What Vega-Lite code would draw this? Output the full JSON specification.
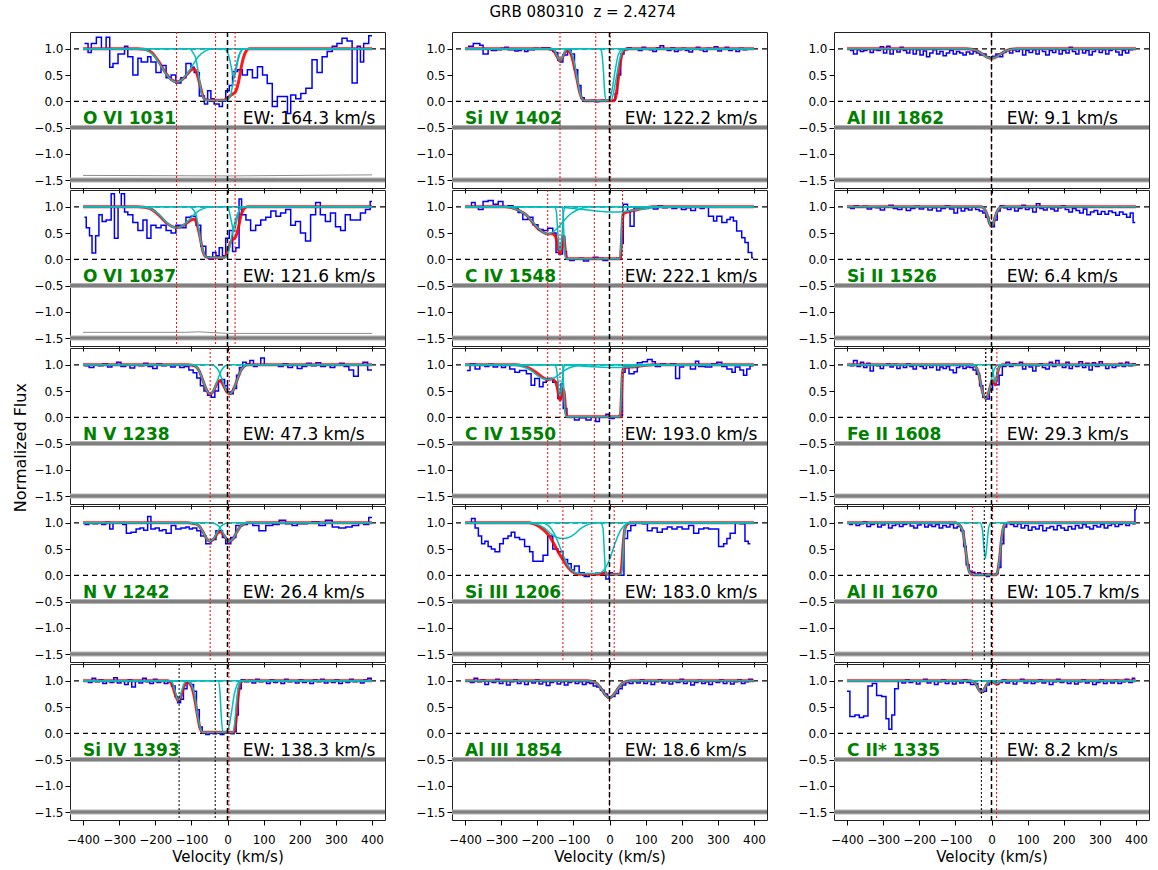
{
"$schema": "https://vega.github.io/schema/vega-lite/v6.json",
"padding": {"left": 13, "top": 4, "right": 5, "bottom": 5},
"title": {"text": "GRB 080310\u00a0 z = 2.4274", "fontSize": 15, "font": "DejaVu Sans", "fontWeight": "normal", "anchor": "middle", "color": "black", "offset": 11},
"config": {
 "font": "DejaVu Sans",
 "view": {"stroke": "#222", "strokeWidth": 1},
 "axis": {"labelFont": "DejaVu Sans", "labelFontSize": 12, "labelColor": "black", "tickColor": "black", "domain": false, "grid": false, "tickSize": 5, "titleFont": "DejaVu Sans", "titleFontWeight": "normal", "titleColor": "black", "titleFontSize": 15, "labelOverlap": false, "labelFlush": false},
 "text": {"font": "DejaVu Sans"}
},
"data": {"name": "d"},
"datasets": {"d": [
{"p":0,"k":"lab","name":"O VI 1031","ew":"EW: 164.3 km/s"},
{"p":1,"k":"lab","name":"Si IV 1402","ew":"EW: 122.2 km/s"},
{"p":2,"k":"lab","name":"Al III 1862","ew":"EW: 9.1 km/s"},
{"p":3,"k":"lab","name":"O VI 1037","ew":"EW: 121.6 km/s"},
{"p":4,"k":"lab","name":"C IV 1548","ew":"EW: 222.1 km/s"},
{"p":5,"k":"lab","name":"Si II 1526","ew":"EW: 6.4 km/s"},
{"p":6,"k":"lab","name":"N V 1238","ew":"EW: 47.3 km/s"},
{"p":7,"k":"lab","name":"C IV 1550","ew":"EW: 193.0 km/s"},
{"p":8,"k":"lab","name":"Fe II 1608","ew":"EW: 29.3 km/s"},
{"p":9,"k":"lab","name":"N V 1242","ew":"EW: 26.4 km/s"},
{"p":10,"k":"lab","name":"Si III 1206","ew":"EW: 183.0 km/s"},
{"p":11,"k":"lab","name":"Al II 1670","ew":"EW: 105.7 km/s"},
{"p":12,"k":"lab","name":"Si IV 1393","ew":"EW: 138.3 km/s"},
{"p":13,"k":"lab","name":"Al III 1854","ew":"EW: 18.6 km/s"},
{"p":14,"k":"lab","name":"C II* 1335","ew":"EW: 8.2 km/s"},

{"p":0,"k":"vl","s":"r","v":-141},{"p":0,"k":"vl","s":"r","v":-33},{"p":0,"k":"vl","s":"r","v":21},
{"p":1,"k":"vl","s":"r","v":-137},{"p":1,"k":"vl","s":"r","v":-38},{"p":1,"k":"vl","s":"r","v":2},
{"p":2,"k":"vl","s":"r","v":0},
{"p":3,"k":"vl","s":"r","v":-141},{"p":3,"k":"vl","s":"r","v":-33},{"p":3,"k":"vl","s":"r","v":21},
{"p":4,"k":"vl","s":"r","v":-171},{"p":4,"k":"vl","s":"r","v":-137},{"p":4,"k":"vl","s":"r","v":-42},{"p":4,"k":"vl","s":"r","v":36},
{"p":5,"k":"vl","s":"r","v":0},
{"p":6,"k":"vl","s":"r","v":-48},{"p":6,"k":"vl","s":"r","v":5},
{"p":7,"k":"vl","s":"r","v":-171},{"p":7,"k":"vl","s":"r","v":-137},{"p":7,"k":"vl","s":"r","v":-42},{"p":7,"k":"vl","s":"r","v":36},
{"p":8,"k":"vl","s":"r","v":-16},{"p":8,"k":"vl","s":"r","v":15},{"p":8,"k":"vl","s":"b","v":-16},
{"p":9,"k":"vl","s":"r","v":-48},{"p":9,"k":"vl","s":"r","v":5},
{"p":10,"k":"vl","s":"r","v":-129},{"p":10,"k":"vl","s":"r","v":-49},{"p":10,"k":"vl","s":"r","v":13},
{"p":11,"k":"vl","s":"r","v":-53},{"p":11,"k":"vl","s":"r","v":3},{"p":11,"k":"vl","s":"b","v":-20},
{"p":12,"k":"vl","s":"b","v":-134},{"p":12,"k":"vl","s":"b","v":-34},{"p":12,"k":"vl","s":"r","v":4},
{"p":13,"k":"vl","s":"r","v":0},
{"p":14,"k":"vl","s":"b","v":-28},{"p":14,"k":"vl","s":"r","v":14},

{"p":0,"k":"e","v":-400,"f":-1.41},{"p":0,"k":"e","v":0,"f":-1.42},{"p":0,"k":"e","v":400,"f":-1.40},
{"p":3,"k":"e","v":-400,"f":-1.39},{"p":3,"k":"e","v":-120,"f":-1.39},{"p":3,"k":"e","v":-80,"f":-1.38},{"p":3,"k":"e","v":0,"f":-1.41},{"p":3,"k":"e","v":400,"f":-1.41},

{"p":0,"k":"s","v":-396,"f":1.1},{"p":0,"k":"s","v":-386,"f":0.93},{"p":0,"k":"s","v":-377,"f":1.1},{"p":0,"k":"s","v":-363,"f":1.22},{"p":0,"k":"s","v":-349,"f":1.0},{"p":0,"k":"s","v":-336,"f":1.22},{"p":0,"k":"s","v":-326,"f":0.65},{"p":0,"k":"s","v":-317,"f":0.72},{"p":0,"k":"s","v":-303,"f":0.9},{"p":0,"k":"s","v":-285,"f":1.05},{"p":0,"k":"s","v":-276,"f":0.85},{"p":0,"k":"s","v":-262,"f":0.5},{"p":0,"k":"s","v":-248,"f":0.82},{"p":0,"k":"s","v":-239,"f":0.75},{"p":0,"k":"s","v":-221,"f":0.85},{"p":0,"k":"s","v":-212,"f":0.75},{"p":0,"k":"s","v":-198,"f":0.55},{"p":0,"k":"s","v":-184,"f":0.68},{"p":0,"k":"s","v":-170,"f":0.45},{"p":0,"k":"s","v":-156,"f":0.5},{"p":0,"k":"s","v":-143,"f":0.35},{"p":0,"k":"s","v":-129,"f":0.45},{"p":0,"k":"s","v":-115,"f":0.72},{"p":0,"k":"s","v":-101,"f":0.65},{"p":0,"k":"s","v":-92,"f":0.55},{"p":0,"k":"s","v":-78,"f":0.1},{"p":0,"k":"s","v":-64,"f":-0.05},{"p":0,"k":"s","v":-55,"f":0.2},{"p":0,"k":"s","v":-46,"f":0.05},{"p":0,"k":"s","v":-37,"f":-0.05},{"p":0,"k":"s","v":-23,"f":-0.1},{"p":0,"k":"s","v":-14,"f":0.0},{"p":0,"k":"s","v":-5,"f":0.2},{"p":0,"k":"s","v":5,"f":0.3},{"p":0,"k":"s","v":14,"f":0.57},{"p":0,"k":"s","v":28,"f":0.6},{"p":0,"k":"s","v":41,"f":0.5},{"p":0,"k":"s","v":55,"f":0.6},{"p":0,"k":"s","v":69,"f":0.45},{"p":0,"k":"s","v":83,"f":0.66},{"p":0,"k":"s","v":97,"f":0.5},{"p":0,"k":"s","v":110,"f":0.34},{"p":0,"k":"s","v":124,"f":-0.1},{"p":0,"k":"s","v":138,"f":0.09},{"p":0,"k":"s","v":152,"f":0.09},{"p":0,"k":"s","v":166,"f":-0.23},{"p":0,"k":"s","v":175,"f":0.12},{"p":0,"k":"s","v":189,"f":0.05},{"p":0,"k":"s","v":203,"f":0.15},{"p":0,"k":"s","v":217,"f":0.25},{"p":0,"k":"s","v":234,"f":0.79},{"p":0,"k":"s","v":248,"f":0.55},{"p":0,"k":"s","v":262,"f":0.85},{"p":0,"k":"s","v":276,"f":0.95},{"p":0,"k":"s","v":290,"f":1.05},{"p":0,"k":"s","v":303,"f":1.1},{"p":0,"k":"s","v":317,"f":1.2},{"p":0,"k":"s","v":331,"f":1.15},{"p":0,"k":"s","v":345,"f":0.35},{"p":0,"k":"s","v":359,"f":1.05},{"p":0,"k":"s","v":368,"f":0.75},{"p":0,"k":"s","v":377,"f":1.1},{"p":0,"k":"s","v":391,"f":1.25},{"p":0,"k":"s","v":400,"f":1.25},

{"p":0,"k":"m","v":-400,"f":1},{"p":0,"k":"m","v":-250,"f":1},{"p":0,"k":"m","v":-230,"f":0.99},{"p":0,"k":"m","v":-210,"f":0.93},{"p":0,"k":"m","v":-190,"f":0.75},{"p":0,"k":"m","v":-170,"f":0.53},{"p":0,"k":"m","v":-155,"f":0.41},{"p":0,"k":"m","v":-141,"f":0.37},{"p":0,"k":"m","v":-126,"f":0.41},{"p":0,"k":"m","v":-111,"f":0.52},{"p":0,"k":"m","v":-100,"f":0.6},{"p":0,"k":"m","v":-93,"f":0.62},{"p":0,"k":"m","v":-86,"f":0.55},{"p":0,"k":"m","v":-80,"f":0.42},{"p":0,"k":"m","v":-74,"f":0.25},{"p":0,"k":"m","v":-68,"f":0.1},{"p":0,"k":"m","v":-60,"f":0.03},{"p":0,"k":"m","v":-40,"f":0.02},{"p":0,"k":"m","v":-10,"f":0.02},{"p":0,"k":"m","v":0,"f":0.06},{"p":0,"k":"m","v":10,"f":0.12},{"p":0,"k":"m","v":22,"f":0.18},{"p":0,"k":"m","v":30,"f":0.35},{"p":0,"k":"m","v":38,"f":0.65},{"p":0,"k":"m","v":45,"f":0.85},{"p":0,"k":"m","v":52,"f":0.96},{"p":0,"k":"m","v":60,"f":1},{"p":0,"k":"m","v":400,"f":1},
{"p":0,"k":"c","c":1,"v":-400,"f":1},{"p":0,"k":"c","c":1,"v":-241,"f":1},{"p":0,"k":"c","c":1,"v":-221,"f":0.96},{"p":0,"k":"c","c":1,"v":-201,"f":0.85},{"p":0,"k":"c","c":1,"v":-186,"f":0.69},{"p":0,"k":"c","c":1,"v":-171,"f":0.53},{"p":0,"k":"c","c":1,"v":-156,"f":0.41},{"p":0,"k":"c","c":1,"v":-141,"f":0.37},{"p":0,"k":"c","c":1,"v":-126,"f":0.41},{"p":0,"k":"c","c":1,"v":-111,"f":0.53},{"p":0,"k":"c","c":1,"v":-96,"f":0.69},{"p":0,"k":"c","c":1,"v":-81,"f":0.85},{"p":0,"k":"c","c":1,"v":-61,"f":0.96},{"p":0,"k":"c","c":1,"v":-41,"f":1},{"p":0,"k":"c","c":1,"v":400,"f":1},
{"p":0,"k":"c","c":2,"v":-400,"f":1},{"p":0,"k":"c","c":2,"v":-105,"f":1},{"p":0,"k":"c","c":2,"v":-95,"f":0.92},{"p":0,"k":"c","c":2,"v":-87,"f":0.8},{"p":0,"k":"c","c":2,"v":-80,"f":0.5},{"p":0,"k":"c","c":2,"v":-73,"f":0.2},{"p":0,"k":"c","c":2,"v":-65,"f":0.05},{"p":0,"k":"c","c":2,"v":-58,"f":0.02},{"p":0,"k":"c","c":2,"v":-10,"f":0.02},{"p":0,"k":"c","c":2,"v":0,"f":0.03},{"p":0,"k":"c","c":2,"v":8,"f":0.1},{"p":0,"k":"c","c":2,"v":15,"f":0.35},{"p":0,"k":"c","c":2,"v":22,"f":0.6},{"p":0,"k":"c","c":2,"v":30,"f":0.85},{"p":0,"k":"c","c":2,"v":38,"f":0.97},{"p":0,"k":"c","c":2,"v":45,"f":1},{"p":0,"k":"c","c":2,"v":400,"f":1},
{"p":0,"k":"c","c":3,"v":-400,"f":1},{"p":0,"k":"c","c":3,"v":-10,"f":1},{"p":0,"k":"c","c":3,"v":0,"f":0.93},{"p":0,"k":"c","c":3,"v":6,"f":0.8},{"p":0,"k":"c","c":3,"v":12,"f":0.6},{"p":0,"k":"c","c":3,"v":18,"f":0.45},{"p":0,"k":"c","c":3,"v":24,"f":0.6},{"p":0,"k":"c","c":3,"v":30,"f":0.8},{"p":0,"k":"c","c":3,"v":36,"f":0.93},{"p":0,"k":"c","c":3,"v":46,"f":1},{"p":0,"k":"c","c":3,"v":400,"f":1},

{"p":1,"k":"s","v":-392,"f":1.05},{"p":1,"k":"s","v":-377,"f":1.1},{"p":1,"k":"s","v":-359,"f":1.07},{"p":1,"k":"s","v":-350,"f":0.9},{"p":1,"k":"s","v":-336,"f":1.0},{"p":1,"k":"s","v":-327,"f":0.97},{"p":1,"k":"s","v":-313,"f":0.98},{"p":1,"k":"s","v":-300,"f":1.01},{"p":1,"k":"s","v":-290,"f":1.03},{"p":1,"k":"s","v":-280,"f":0.98},{"p":1,"k":"s","v":-262,"f":0.96},{"p":1,"k":"s","v":-253,"f":0.97},{"p":1,"k":"s","v":-244,"f":1.0},{"p":1,"k":"s","v":-235,"f":0.95},{"p":1,"k":"s","v":-226,"f":0.98},{"p":1,"k":"s","v":-208,"f":1.01},{"p":1,"k":"s","v":-198,"f":1.0},{"p":1,"k":"s","v":-188,"f":1.02},{"p":1,"k":"s","v":-166,"f":0.98},{"p":1,"k":"s","v":-157,"f":0.95},{"p":1,"k":"s","v":-150,"f":0.93},{"p":1,"k":"s","v":-143,"f":0.78},{"p":1,"k":"s","v":-136,"f":0.75},{"p":1,"k":"s","v":-129,"f":0.88},{"p":1,"k":"s","v":-116,"f":0.98},{"p":1,"k":"s","v":-106,"f":0.9},{"p":1,"k":"s","v":-97,"f":0.6},{"p":1,"k":"s","v":-88,"f":0.3},{"p":1,"k":"s","v":-79,"f":0.07},{"p":1,"k":"s","v":-70,"f":0.01},{"p":1,"k":"s","v":-60,"f":0.0},{"p":1,"k":"s","v":-50,"f":0.02},{"p":1,"k":"s","v":-40,"f":-0.01},{"p":1,"k":"s","v":-30,"f":0.0},{"p":1,"k":"s","v":-20,"f":0.02},{"p":1,"k":"s","v":-10,"f":0.01},{"p":1,"k":"s","v":0,"f":0.0},{"p":1,"k":"s","v":10,"f":0.02},{"p":1,"k":"s","v":16,"f":0.15},{"p":1,"k":"s","v":22,"f":0.5},{"p":1,"k":"s","v":31,"f":0.9},{"p":1,"k":"s","v":40,"f":0.98},{"p":1,"k":"s","v":50,"f":1.02},{"p":1,"k":"s","v":60,"f":0.99},{"p":1,"k":"s","v":70,"f":1.0},{"p":1,"k":"s","v":80,"f":0.97},{"p":1,"k":"s","v":90,"f":1.03},{"p":1,"k":"s","v":100,"f":1.0},{"p":1,"k":"s","v":110,"f":0.98},{"p":1,"k":"s","v":120,"f":0.95},{"p":1,"k":"s","v":130,"f":1.02},{"p":1,"k":"s","v":140,"f":1.06},{"p":1,"k":"s","v":150,"f":1.0},{"p":1,"k":"s","v":160,"f":0.97},{"p":1,"k":"s","v":170,"f":1.02},{"p":1,"k":"s","v":180,"f":0.95},{"p":1,"k":"s","v":190,"f":0.98},{"p":1,"k":"s","v":200,"f":1.01},{"p":1,"k":"s","v":210,"f":0.97},{"p":1,"k":"s","v":220,"f":0.94},{"p":1,"k":"s","v":230,"f":1.0},{"p":1,"k":"s","v":240,"f":1.03},{"p":1,"k":"s","v":250,"f":0.98},{"p":1,"k":"s","v":260,"f":0.95},{"p":1,"k":"s","v":270,"f":1.01},{"p":1,"k":"s","v":280,"f":0.99},{"p":1,"k":"s","v":290,"f":1.04},{"p":1,"k":"s","v":300,"f":0.96},{"p":1,"k":"s","v":310,"f":1.0},{"p":1,"k":"s","v":320,"f":1.03},{"p":1,"k":"s","v":330,"f":0.97},{"p":1,"k":"s","v":340,"f":1.0},{"p":1,"k":"s","v":350,"f":0.95},{"p":1,"k":"s","v":360,"f":1.01},{"p":1,"k":"s","v":370,"f":0.98},{"p":1,"k":"s","v":380,"f":1.0},{"p":1,"k":"s","v":390,"f":0.99},{"p":1,"k":"s","v":400,"f":0.99},
{"p":1,"k":"m","v":-400,"f":1},{"p":1,"k":"m","v":-165,"f":1},{"p":1,"k":"m","v":-155,"f":0.97},{"p":1,"k":"m","v":-145,"f":0.85},{"p":1,"k":"m","v":-137,"f":0.77},{"p":1,"k":"m","v":-129,"f":0.85},{"p":1,"k":"m","v":-120,"f":0.96},{"p":1,"k":"m","v":-112,"f":0.95},{"p":1,"k":"m","v":-105,"f":0.87},{"p":1,"k":"m","v":-98,"f":0.68},{"p":1,"k":"m","v":-90,"f":0.42},{"p":1,"k":"m","v":-82,"f":0.16},{"p":1,"k":"m","v":-75,"f":0.04},{"p":1,"k":"m","v":-68,"f":0.01},{"p":1,"k":"m","v":10,"f":0.01},{"p":1,"k":"m","v":16,"f":0.05},{"p":1,"k":"m","v":22,"f":0.3},{"p":1,"k":"m","v":28,"f":0.65},{"p":1,"k":"m","v":34,"f":0.88},{"p":1,"k":"m","v":40,"f":0.97},{"p":1,"k":"m","v":48,"f":1},{"p":1,"k":"m","v":400,"f":1},
{"p":1,"k":"c","c":1,"v":-400,"f":1},{"p":1,"k":"c","c":1,"v":-162,"f":1},{"p":1,"k":"c","c":1,"v":-152,"f":0.97},{"p":1,"k":"c","c":1,"v":-145,"f":0.86},{"p":1,"k":"c","c":1,"v":-137,"f":0.77},{"p":1,"k":"c","c":1,"v":-129,"f":0.86},{"p":1,"k":"c","c":1,"v":-122,"f":0.97},{"p":1,"k":"c","c":1,"v":-112,"f":1},{"p":1,"k":"c","c":1,"v":400,"f":1},
{"p":1,"k":"c","c":2,"v":-400,"f":1},{"p":1,"k":"c","c":2,"v":-120,"f":1},{"p":1,"k":"c","c":2,"v":-110,"f":0.97},{"p":1,"k":"c","c":2,"v":-102,"f":0.87},{"p":1,"k":"c","c":2,"v":-95,"f":0.65},{"p":1,"k":"c","c":2,"v":-88,"f":0.38},{"p":1,"k":"c","c":2,"v":-80,"f":0.12},{"p":1,"k":"c","c":2,"v":-72,"f":0.02},{"p":1,"k":"c","c":2,"v":-10,"f":0.01},{"p":1,"k":"c","c":2,"v":0,"f":0.04},{"p":1,"k":"c","c":2,"v":8,"f":0.25},{"p":1,"k":"c","c":2,"v":16,"f":0.6},{"p":1,"k":"c","c":2,"v":24,"f":0.88},{"p":1,"k":"c","c":2,"v":32,"f":0.98},{"p":1,"k":"c","c":2,"v":40,"f":1},{"p":1,"k":"c","c":2,"v":400,"f":1},
{"p":1,"k":"c","c":3,"v":-400,"f":1},{"p":1,"k":"c","c":3,"v":-28,"f":1},{"p":1,"k":"c","c":3,"v":-22,"f":0.95},{"p":1,"k":"c","c":3,"v":-17,"f":0.6},{"p":1,"k":"c","c":3,"v":-13,"f":0.15},{"p":1,"k":"c","c":3,"v":-9,"f":0.02},{"p":1,"k":"c","c":3,"v":5,"f":0.02},{"p":1,"k":"c","c":3,"v":12,"f":0.2},{"p":1,"k":"c","c":3,"v":20,"f":0.5},{"p":1,"k":"c","c":3,"v":28,"f":0.8},{"p":1,"k":"c","c":3,"v":36,"f":0.95},{"p":1,"k":"c","c":3,"v":45,"f":1},{"p":1,"k":"c","c":3,"v":400,"f":1},

{"p":2,"k":"s","v":-392,"f":0.97},{"p":2,"k":"s","v":-382,"f":0.9},{"p":2,"k":"s","v":-372,"f":0.98},{"p":2,"k":"s","v":-363,"f":0.95},{"p":2,"k":"s","v":-354,"f":0.97},{"p":2,"k":"s","v":-345,"f":1.0},{"p":2,"k":"s","v":-336,"f":0.93},{"p":2,"k":"s","v":-327,"f":0.98},{"p":2,"k":"s","v":-317,"f":0.97},{"p":2,"k":"s","v":-308,"f":1.04},{"p":2,"k":"s","v":-299,"f":0.92},{"p":2,"k":"s","v":-290,"f":1.05},{"p":2,"k":"s","v":-281,"f":0.9},{"p":2,"k":"s","v":-272,"f":1.0},{"p":2,"k":"s","v":-262,"f":0.94},{"p":2,"k":"s","v":-253,"f":1.03},{"p":2,"k":"s","v":-244,"f":0.97},{"p":2,"k":"s","v":-235,"f":0.92},{"p":2,"k":"s","v":-226,"f":1.0},{"p":2,"k":"s","v":-217,"f":0.9},{"p":2,"k":"s","v":-208,"f":0.98},{"p":2,"k":"s","v":-198,"f":0.88},{"p":2,"k":"s","v":-189,"f":0.96},{"p":2,"k":"s","v":-180,"f":0.85},{"p":2,"k":"s","v":-171,"f":0.92},{"p":2,"k":"s","v":-162,"f":0.98},{"p":2,"k":"s","v":-152,"f":0.9},{"p":2,"k":"s","v":-143,"f":0.95},{"p":2,"k":"s","v":-134,"f":0.87},{"p":2,"k":"s","v":-125,"f":0.92},{"p":2,"k":"s","v":-116,"f":0.97},{"p":2,"k":"s","v":-106,"f":0.9},{"p":2,"k":"s","v":-97,"f":0.95},{"p":2,"k":"s","v":-88,"f":0.92},{"p":2,"k":"s","v":-79,"f":0.88},{"p":2,"k":"s","v":-70,"f":0.94},{"p":2,"k":"s","v":-60,"f":0.9},{"p":2,"k":"s","v":-51,"f":0.95},{"p":2,"k":"s","v":-42,"f":0.92},{"p":2,"k":"s","v":-33,"f":0.88},{"p":2,"k":"s","v":-24,"f":0.9},{"p":2,"k":"s","v":-15,"f":0.85},{"p":2,"k":"s","v":-6,"f":0.82},{"p":2,"k":"s","v":3,"f":0.86},{"p":2,"k":"s","v":12,"f":0.9},{"p":2,"k":"s","v":22,"f":0.85},{"p":2,"k":"s","v":31,"f":0.93},{"p":2,"k":"s","v":40,"f":0.97},{"p":2,"k":"s","v":50,"f":0.92},{"p":2,"k":"s","v":59,"f":0.98},{"p":2,"k":"s","v":68,"f":0.95},{"p":2,"k":"s","v":77,"f":1.0},{"p":2,"k":"s","v":86,"f":0.88},{"p":2,"k":"s","v":95,"f":0.97},{"p":2,"k":"s","v":104,"f":0.93},{"p":2,"k":"s","v":114,"f":0.98},{"p":2,"k":"s","v":123,"f":0.9},{"p":2,"k":"s","v":132,"f":1.0},{"p":2,"k":"s","v":141,"f":0.95},{"p":2,"k":"s","v":150,"f":0.88},{"p":2,"k":"s","v":160,"f":0.97},{"p":2,"k":"s","v":169,"f":0.93},{"p":2,"k":"s","v":178,"f":0.99},{"p":2,"k":"s","v":187,"f":0.9},{"p":2,"k":"s","v":196,"f":0.97},{"p":2,"k":"s","v":206,"f":0.92},{"p":2,"k":"s","v":215,"f":1.03},{"p":2,"k":"s","v":224,"f":0.95},{"p":2,"k":"s","v":233,"f":0.9},{"p":2,"k":"s","v":242,"f":1.0},{"p":2,"k":"s","v":252,"f":0.92},{"p":2,"k":"s","v":261,"f":0.97},{"p":2,"k":"s","v":270,"f":0.88},{"p":2,"k":"s","v":279,"f":0.95},{"p":2,"k":"s","v":288,"f":1.0},{"p":2,"k":"s","v":298,"f":0.93},{"p":2,"k":"s","v":307,"f":0.98},{"p":2,"k":"s","v":316,"f":0.9},{"p":2,"k":"s","v":325,"f":0.97},{"p":2,"k":"s","v":334,"f":1.0},{"p":2,"k":"s","v":344,"f":0.94},{"p":2,"k":"s","v":353,"f":0.88},{"p":2,"k":"s","v":362,"f":0.97},{"p":2,"k":"s","v":371,"f":0.92},{"p":2,"k":"s","v":380,"f":0.98},{"p":2,"k":"s","v":390,"f":1.0},{"p":2,"k":"s","v":400,"f":1.0},
{"p":2,"k":"m","v":-400,"f":1},{"p":2,"k":"m","v":-70,"f":1},{"p":2,"k":"m","v":-55,"f":0.99},{"p":2,"k":"m","v":-40,"f":0.96},{"p":2,"k":"m","v":-25,"f":0.9},{"p":2,"k":"m","v":-12,"f":0.84},{"p":2,"k":"m","v":0,"f":0.82},{"p":2,"k":"m","v":12,"f":0.84},{"p":2,"k":"m","v":25,"f":0.9},{"p":2,"k":"m","v":40,"f":0.96},{"p":2,"k":"m","v":55,"f":0.99},{"p":2,"k":"m","v":70,"f":1},{"p":2,"k":"m","v":400,"f":1},
{"p":2,"k":"c","c":1,"v":-400,"f":1},{"p":2,"k":"c","c":1,"v":-70,"f":1},{"p":2,"k":"c","c":1,"v":-55,"f":0.99},{"p":2,"k":"c","c":1,"v":-40,"f":0.96},{"p":2,"k":"c","c":1,"v":-25,"f":0.9},{"p":2,"k":"c","c":1,"v":-12,"f":0.84},{"p":2,"k":"c","c":1,"v":0,"f":0.82},{"p":2,"k":"c","c":1,"v":12,"f":0.84},{"p":2,"k":"c","c":1,"v":25,"f":0.9},{"p":2,"k":"c","c":1,"v":40,"f":0.96},{"p":2,"k":"c","c":1,"v":55,"f":0.99},{"p":2,"k":"c","c":1,"v":70,"f":1},{"p":2,"k":"c","c":1,"v":400,"f":1},

{"p":3,"k":"s","v":-396,"f":0.8},{"p":3,"k":"s","v":-391,"f":0.6},{"p":3,"k":"s","v":-382,"f":0.45},{"p":3,"k":"s","v":-375,"f":0.12},{"p":3,"k":"s","v":-365,"f":0.45},{"p":3,"k":"s","v":-356,"f":0.85},{"p":3,"k":"s","v":-347,"f":0.72},{"p":3,"k":"s","v":-336,"f":0.75},{"p":3,"k":"s","v":-322,"f":1.25},{"p":3,"k":"s","v":-313,"f":0.4},{"p":3,"k":"s","v":-303,"f":1.0},{"p":3,"k":"s","v":-294,"f":1.25},{"p":3,"k":"s","v":-285,"f":0.9},{"p":3,"k":"s","v":-276,"f":0.85},{"p":3,"k":"s","v":-262,"f":0.7},{"p":3,"k":"s","v":-248,"f":0.55},{"p":3,"k":"s","v":-234,"f":0.75},{"p":3,"k":"s","v":-223,"f":0.4},{"p":3,"k":"s","v":-212,"f":0.65},{"p":3,"k":"s","v":-198,"f":0.6},{"p":3,"k":"s","v":-184,"f":0.65},{"p":3,"k":"s","v":-170,"f":0.55},{"p":3,"k":"s","v":-156,"f":0.5},{"p":3,"k":"s","v":-143,"f":0.65},{"p":3,"k":"s","v":-129,"f":0.6},{"p":3,"k":"s","v":-115,"f":0.8},{"p":3,"k":"s","v":-101,"f":0.82},{"p":3,"k":"s","v":-87,"f":0.65},{"p":3,"k":"s","v":-74,"f":0.25},{"p":3,"k":"s","v":-60,"f":0.05},{"p":3,"k":"s","v":-51,"f":0.0},{"p":3,"k":"s","v":-41,"f":0.13},{"p":3,"k":"s","v":-32,"f":0.07},{"p":3,"k":"s","v":-23,"f":0.22},{"p":3,"k":"s","v":-14,"f":0.07},{"p":3,"k":"s","v":-5,"f":0.4},{"p":3,"k":"s","v":5,"f":0.55},{"p":3,"k":"s","v":14,"f":0.15},{"p":3,"k":"s","v":23,"f":0.22},{"p":3,"k":"s","v":32,"f":1.15},{"p":3,"k":"s","v":39,"f":0.85},{"p":3,"k":"s","v":51,"f":0.75},{"p":3,"k":"s","v":64,"f":0.55},{"p":3,"k":"s","v":78,"f":0.65},{"p":3,"k":"s","v":92,"f":0.75},{"p":3,"k":"s","v":106,"f":0.8},{"p":3,"k":"s","v":120,"f":0.92},{"p":3,"k":"s","v":134,"f":0.82},{"p":3,"k":"s","v":147,"f":0.88},{"p":3,"k":"s","v":161,"f":0.95},{"p":3,"k":"s","v":175,"f":0.65},{"p":3,"k":"s","v":188,"f":0.72},{"p":3,"k":"s","v":202,"f":0.5},{"p":3,"k":"s","v":216,"f":0.35},{"p":3,"k":"s","v":230,"f":0.85},{"p":3,"k":"s","v":244,"f":1.08},{"p":3,"k":"s","v":257,"f":0.85},{"p":3,"k":"s","v":271,"f":0.72},{"p":3,"k":"s","v":285,"f":0.88},{"p":3,"k":"s","v":299,"f":0.62},{"p":3,"k":"s","v":313,"f":0.55},{"p":3,"k":"s","v":326,"f":0.85},{"p":3,"k":"s","v":340,"f":0.75},{"p":3,"k":"s","v":354,"f":0.75},{"p":3,"k":"s","v":368,"f":0.88},{"p":3,"k":"s","v":382,"f":0.95},{"p":3,"k":"s","v":395,"f":1.1},{"p":3,"k":"s","v":400,"f":1.1},
{"p":3,"k":"m","v":-400,"f":1},{"p":3,"k":"m","v":-250,"f":1},{"p":3,"k":"m","v":-230,"f":0.99},{"p":3,"k":"m","v":-210,"f":0.95},{"p":3,"k":"m","v":-190,"f":0.84},{"p":3,"k":"m","v":-170,"f":0.7},{"p":3,"k":"m","v":-155,"f":0.63},{"p":3,"k":"m","v":-141,"f":0.6},{"p":3,"k":"m","v":-126,"f":0.63},{"p":3,"k":"m","v":-111,"f":0.7},{"p":3,"k":"m","v":-100,"f":0.75},{"p":3,"k":"m","v":-93,"f":0.77},{"p":3,"k":"m","v":-86,"f":0.7},{"p":3,"k":"m","v":-80,"f":0.55},{"p":3,"k":"m","v":-74,"f":0.35},{"p":3,"k":"m","v":-68,"f":0.15},{"p":3,"k":"m","v":-60,"f":0.05},{"p":3,"k":"m","v":-50,"f":0.03},{"p":3,"k":"m","v":-10,"f":0.03},{"p":3,"k":"m","v":0,"f":0.15},{"p":3,"k":"m","v":8,"f":0.32},{"p":3,"k":"m","v":15,"f":0.38},{"p":3,"k":"m","v":22,"f":0.42},{"p":3,"k":"m","v":30,"f":0.6},{"p":3,"k":"m","v":38,"f":0.85},{"p":3,"k":"m","v":45,"f":0.96},{"p":3,"k":"m","v":55,"f":1},{"p":3,"k":"m","v":400,"f":1},
{"p":3,"k":"c","c":1,"v":-400,"f":1},{"p":3,"k":"c","c":1,"v":-241,"f":1},{"p":3,"k":"c","c":1,"v":-221,"f":0.98},{"p":3,"k":"c","c":1,"v":-201,"f":0.92},{"p":3,"k":"c","c":1,"v":-186,"f":0.83},{"p":3,"k":"c","c":1,"v":-171,"f":0.72},{"p":3,"k":"c","c":1,"v":-156,"f":0.63},{"p":3,"k":"c","c":1,"v":-141,"f":0.6},{"p":3,"k":"c","c":1,"v":-126,"f":0.63},{"p":3,"k":"c","c":1,"v":-111,"f":0.72},{"p":3,"k":"c","c":1,"v":-96,"f":0.83},{"p":3,"k":"c","c":1,"v":-81,"f":0.92},{"p":3,"k":"c","c":1,"v":-61,"f":0.98},{"p":3,"k":"c","c":1,"v":-41,"f":1},{"p":3,"k":"c","c":1,"v":400,"f":1},
{"p":3,"k":"c","c":2,"v":-400,"f":1},{"p":3,"k":"c","c":2,"v":-105,"f":1},{"p":3,"k":"c","c":2,"v":-95,"f":0.95},{"p":3,"k":"c","c":2,"v":-87,"f":0.85},{"p":3,"k":"c","c":2,"v":-80,"f":0.6},{"p":3,"k":"c","c":2,"v":-73,"f":0.3},{"p":3,"k":"c","c":2,"v":-65,"f":0.1},{"p":3,"k":"c","c":2,"v":-58,"f":0.04},{"p":3,"k":"c","c":2,"v":-10,"f":0.03},{"p":3,"k":"c","c":2,"v":0,"f":0.08},{"p":3,"k":"c","c":2,"v":8,"f":0.3},{"p":3,"k":"c","c":2,"v":15,"f":0.55},{"p":3,"k":"c","c":2,"v":22,"f":0.75},{"p":3,"k":"c","c":2,"v":30,"f":0.9},{"p":3,"k":"c","c":2,"v":38,"f":0.98},{"p":3,"k":"c","c":2,"v":45,"f":1},{"p":3,"k":"c","c":2,"v":400,"f":1},
{"p":3,"k":"c","c":3,"v":-400,"f":1},{"p":3,"k":"c","c":3,"v":0,"f":1},{"p":3,"k":"c","c":3,"v":6,"f":0.88},{"p":3,"k":"c","c":3,"v":12,"f":0.68},{"p":3,"k":"c","c":3,"v":18,"f":0.52},{"p":3,"k":"c","c":3,"v":24,"f":0.68},{"p":3,"k":"c","c":3,"v":30,"f":0.88},{"p":3,"k":"c","c":3,"v":36,"f":0.97},{"p":3,"k":"c","c":3,"v":46,"f":1},{"p":3,"k":"c","c":3,"v":400,"f":1},

{"p":4,"k":"s","v":-392,"f":1.0},{"p":4,"k":"s","v":-382,"f":1.08},{"p":4,"k":"s","v":-372,"f":1.0},{"p":4,"k":"s","v":-363,"f":0.95},{"p":4,"k":"s","v":-350,"f":1.1},{"p":4,"k":"s","v":-336,"f":1.12},{"p":4,"k":"s","v":-322,"f":1.05},{"p":4,"k":"s","v":-308,"f":1.1},{"p":4,"k":"s","v":-295,"f":1.0},{"p":4,"k":"s","v":-281,"f":1.02},{"p":4,"k":"s","v":-267,"f":0.98},{"p":4,"k":"s","v":-253,"f":0.89},{"p":4,"k":"s","v":-240,"f":0.76},{"p":4,"k":"s","v":-226,"f":0.8},{"p":4,"k":"s","v":-212,"f":0.66},{"p":4,"k":"s","v":-198,"f":0.57},{"p":4,"k":"s","v":-184,"f":0.55},{"p":4,"k":"s","v":-171,"f":0.59},{"p":4,"k":"s","v":-157,"f":0.5},{"p":4,"k":"s","v":-148,"f":0.13},{"p":4,"k":"s","v":-140,"f":0.1},{"p":4,"k":"s","v":-130,"f":0.44},{"p":4,"k":"s","v":-124,"f":0.15},{"p":4,"k":"s","v":-119,"f":0.01},{"p":4,"k":"s","v":-110,"f":-0.02},{"p":4,"k":"s","v":-98,"f":0.0},{"p":4,"k":"s","v":-85,"f":0.02},{"p":4,"k":"s","v":-72,"f":-0.03},{"p":4,"k":"s","v":-58,"f":0.01},{"p":4,"k":"s","v":-45,"f":0.04},{"p":4,"k":"s","v":-32,"f":0.02},{"p":4,"k":"s","v":-18,"f":-0.02},{"p":4,"k":"s","v":-5,"f":0.01},{"p":4,"k":"s","v":8,"f":0.0},{"p":4,"k":"s","v":20,"f":0.02},{"p":4,"k":"s","v":31,"f":0.3},{"p":4,"k":"s","v":38,"f":1.05},{"p":4,"k":"s","v":50,"f":0.92},{"p":4,"k":"s","v":57,"f":0.63},{"p":4,"k":"s","v":68,"f":0.98},{"p":4,"k":"s","v":80,"f":1.0},{"p":4,"k":"s","v":95,"f":0.97},{"p":4,"k":"s","v":108,"f":1.0},{"p":4,"k":"s","v":121,"f":0.96},{"p":4,"k":"s","v":134,"f":1.02},{"p":4,"k":"s","v":147,"f":0.98},{"p":4,"k":"s","v":160,"f":1.0},{"p":4,"k":"s","v":173,"f":0.97},{"p":4,"k":"s","v":186,"f":1.0},{"p":4,"k":"s","v":199,"f":0.95},{"p":4,"k":"s","v":212,"f":0.98},{"p":4,"k":"s","v":225,"f":0.93},{"p":4,"k":"s","v":238,"f":1.0},{"p":4,"k":"s","v":251,"f":0.97},{"p":4,"k":"s","v":262,"f":1.0},{"p":4,"k":"s","v":274,"f":0.82},{"p":4,"k":"s","v":288,"f":0.73},{"p":4,"k":"s","v":297,"f":0.82},{"p":4,"k":"s","v":311,"f":0.7},{"p":4,"k":"s","v":325,"f":0.76},{"p":4,"k":"s","v":334,"f":0.8},{"p":4,"k":"s","v":343,"f":0.73},{"p":4,"k":"s","v":352,"f":0.54},{"p":4,"k":"s","v":366,"f":0.41},{"p":4,"k":"s","v":375,"f":0.32},{"p":4,"k":"s","v":384,"f":0.13},{"p":4,"k":"s","v":394,"f":0.03},{"p":4,"k":"s","v":398,"f":0.03},
{"p":4,"k":"m","v":-400,"f":1},{"p":4,"k":"m","v":-290,"f":1},{"p":4,"k":"m","v":-270,"f":0.98},{"p":4,"k":"m","v":-250,"f":0.93},{"p":4,"k":"m","v":-230,"f":0.84},{"p":4,"k":"m","v":-215,"f":0.72},{"p":4,"k":"m","v":-200,"f":0.6},{"p":4,"k":"m","v":-185,"f":0.52},{"p":4,"k":"m","v":-171,"f":0.48},{"p":4,"k":"m","v":-160,"f":0.49},{"p":4,"k":"m","v":-150,"f":0.44},{"p":4,"k":"m","v":-144,"f":0.3},{"p":4,"k":"m","v":-139,"f":0.13},{"p":4,"k":"m","v":-135,"f":0.12},{"p":4,"k":"m","v":-131,"f":0.3},{"p":4,"k":"m","v":-128,"f":0.45},{"p":4,"k":"m","v":-125,"f":0.35},{"p":4,"k":"m","v":-121,"f":0.08},{"p":4,"k":"m","v":-117,"f":0.01},{"p":4,"k":"m","v":30,"f":0.01},{"p":4,"k":"m","v":33,"f":0.3},{"p":4,"k":"m","v":36,"f":0.75},{"p":4,"k":"m","v":40,"f":0.88},{"p":4,"k":"m","v":60,"f":0.92},{"p":4,"k":"m","v":80,"f":0.95},{"p":4,"k":"m","v":100,"f":0.98},{"p":4,"k":"m","v":120,"f":1},{"p":4,"k":"m","v":400,"f":1},
{"p":4,"k":"c","c":1,"v":-400,"f":1},{"p":4,"k":"c","c":1,"v":-290,"f":1},{"p":4,"k":"c","c":1,"v":-270,"f":0.98},{"p":4,"k":"c","c":1,"v":-250,"f":0.93},{"p":4,"k":"c","c":1,"v":-230,"f":0.84},{"p":4,"k":"c","c":1,"v":-215,"f":0.73},{"p":4,"k":"c","c":1,"v":-200,"f":0.61},{"p":4,"k":"c","c":1,"v":-185,"f":0.52},{"p":4,"k":"c","c":1,"v":-171,"f":0.48},{"p":4,"k":"c","c":1,"v":-157,"f":0.52},{"p":4,"k":"c","c":1,"v":-142,"f":0.61},{"p":4,"k":"c","c":1,"v":-127,"f":0.73},{"p":4,"k":"c","c":1,"v":-112,"f":0.84},{"p":4,"k":"c","c":1,"v":-92,"f":0.93},{"p":4,"k":"c","c":1,"v":-72,"f":0.98},{"p":4,"k":"c","c":1,"v":-52,"f":1},{"p":4,"k":"c","c":1,"v":400,"f":1},
{"p":4,"k":"c","c":2,"v":-400,"f":1},{"p":4,"k":"c","c":2,"v":-152,"f":1},{"p":4,"k":"c","c":2,"v":-147,"f":0.9},{"p":4,"k":"c","c":2,"v":-143,"f":0.5},{"p":4,"k":"c","c":2,"v":-139,"f":0.2},{"p":4,"k":"c","c":2,"v":-137,"f":0.15},{"p":4,"k":"c","c":2,"v":-135,"f":0.2},{"p":4,"k":"c","c":2,"v":-131,"f":0.5},{"p":4,"k":"c","c":2,"v":-127,"f":0.9},{"p":4,"k":"c","c":2,"v":-122,"f":1},{"p":4,"k":"c","c":2,"v":400,"f":1},
{"p":4,"k":"c","c":3,"v":-400,"f":1},{"p":4,"k":"c","c":3,"v":-130,"f":1},{"p":4,"k":"c","c":3,"v":-127,"f":0.6},{"p":4,"k":"c","c":3,"v":-123,"f":0.1},{"p":4,"k":"c","c":3,"v":-119,"f":0.01},{"p":4,"k":"c","c":3,"v":28,"f":0.01},{"p":4,"k":"c","c":3,"v":32,"f":0.3},{"p":4,"k":"c","c":3,"v":35,"f":0.8},{"p":4,"k":"c","c":3,"v":38,"f":0.97},{"p":4,"k":"c","c":3,"v":42,"f":1},{"p":4,"k":"c","c":3,"v":400,"f":1},
{"p":4,"k":"c","c":4,"v":-400,"f":1},{"p":4,"k":"c","c":4,"v":-180,"f":1},{"p":4,"k":"c","c":4,"v":-140,"f":0.99},{"p":4,"k":"c","c":4,"v":-100,"f":0.97},{"p":4,"k":"c","c":4,"v":-60,"f":0.94},{"p":4,"k":"c","c":4,"v":-20,"f":0.91},{"p":4,"k":"c","c":4,"v":10,"f":0.9},{"p":4,"k":"c","c":4,"v":40,"f":0.91},{"p":4,"k":"c","c":4,"v":70,"f":0.94},{"p":4,"k":"c","c":4,"v":100,"f":0.97},{"p":4,"k":"c","c":4,"v":130,"f":0.99},{"p":4,"k":"c","c":4,"v":160,"f":1},{"p":4,"k":"c","c":4,"v":400,"f":1},

{"p":5,"k":"s","v":-392,"f":0.97},{"p":5,"k":"s","v":-380,"f":1.02},{"p":5,"k":"s","v":-368,"f":0.99},{"p":5,"k":"s","v":-356,"f":1.01},{"p":5,"k":"s","v":-344,"f":0.96},{"p":5,"k":"s","v":-332,"f":1.0},{"p":5,"k":"s","v":-320,"f":0.98},{"p":5,"k":"s","v":-308,"f":0.94},{"p":5,"k":"s","v":-296,"f":0.99},{"p":5,"k":"s","v":-284,"f":1.03},{"p":5,"k":"s","v":-272,"f":0.97},{"p":5,"k":"s","v":-260,"f":0.95},{"p":5,"k":"s","v":-248,"f":1.0},{"p":5,"k":"s","v":-236,"f":0.93},{"p":5,"k":"s","v":-224,"f":0.97},{"p":5,"k":"s","v":-212,"f":1.01},{"p":5,"k":"s","v":-200,"f":0.96},{"p":5,"k":"s","v":-188,"f":0.99},{"p":5,"k":"s","v":-176,"f":0.94},{"p":5,"k":"s","v":-164,"f":0.98},{"p":5,"k":"s","v":-152,"f":0.92},{"p":5,"k":"s","v":-140,"f":0.97},{"p":5,"k":"s","v":-128,"f":1.02},{"p":5,"k":"s","v":-116,"f":0.96},{"p":5,"k":"s","v":-104,"f":0.88},{"p":5,"k":"s","v":-94,"f":0.98},{"p":5,"k":"s","v":-84,"f":0.92},{"p":5,"k":"s","v":-74,"f":0.97},{"p":5,"k":"s","v":-64,"f":0.94},{"p":5,"k":"s","v":-54,"f":0.99},{"p":5,"k":"s","v":-44,"f":0.95},{"p":5,"k":"s","v":-34,"f":0.92},{"p":5,"k":"s","v":-24,"f":0.88},{"p":5,"k":"s","v":-16,"f":0.8},{"p":5,"k":"s","v":-8,"f":0.7},{"p":5,"k":"s","v":0,"f":0.62},{"p":5,"k":"s","v":8,"f":0.75},{"p":5,"k":"s","v":16,"f":0.92},{"p":5,"k":"s","v":24,"f":1.02},{"p":5,"k":"s","v":34,"f":0.98},{"p":5,"k":"s","v":44,"f":0.95},{"p":5,"k":"s","v":54,"f":1.0},{"p":5,"k":"s","v":64,"f":0.92},{"p":5,"k":"s","v":74,"f":0.97},{"p":5,"k":"s","v":84,"f":1.03},{"p":5,"k":"s","v":94,"f":0.95},{"p":5,"k":"s","v":104,"f":0.98},{"p":5,"k":"s","v":114,"f":0.9},{"p":5,"k":"s","v":124,"f":1.06},{"p":5,"k":"s","v":134,"f":0.97},{"p":5,"k":"s","v":144,"f":0.94},{"p":5,"k":"s","v":154,"f":1.0},{"p":5,"k":"s","v":164,"f":0.96},{"p":5,"k":"s","v":174,"f":0.92},{"p":5,"k":"s","v":184,"f":0.98},{"p":5,"k":"s","v":194,"f":1.02},{"p":5,"k":"s","v":204,"f":0.95},{"p":5,"k":"s","v":214,"f":0.9},{"p":5,"k":"s","v":224,"f":0.97},{"p":5,"k":"s","v":234,"f":0.93},{"p":5,"k":"s","v":244,"f":0.88},{"p":5,"k":"s","v":254,"f":0.96},{"p":5,"k":"s","v":264,"f":0.85},{"p":5,"k":"s","v":274,"f":0.9},{"p":5,"k":"s","v":284,"f":0.93},{"p":5,"k":"s","v":294,"f":0.86},{"p":5,"k":"s","v":304,"f":0.91},{"p":5,"k":"s","v":314,"f":0.86},{"p":5,"k":"s","v":324,"f":0.92},{"p":5,"k":"s","v":334,"f":0.89},{"p":5,"k":"s","v":344,"f":0.84},{"p":5,"k":"s","v":354,"f":0.9},{"p":5,"k":"s","v":364,"f":0.86},{"p":5,"k":"s","v":374,"f":0.8},{"p":5,"k":"s","v":384,"f":0.88},{"p":5,"k":"s","v":392,"f":0.7},{"p":5,"k":"s","v":398,"f":0.7},
{"p":5,"k":"m","v":-400,"f":1},{"p":5,"k":"m","v":-30,"f":1},{"p":5,"k":"m","v":-22,"f":0.98},{"p":5,"k":"m","v":-15,"f":0.9},{"p":5,"k":"m","v":-10,"f":0.8},{"p":5,"k":"m","v":-5,"f":0.68},{"p":5,"k":"m","v":0,"f":0.63},{"p":5,"k":"m","v":5,"f":0.68},{"p":5,"k":"m","v":10,"f":0.8},{"p":5,"k":"m","v":15,"f":0.9},{"p":5,"k":"m","v":22,"f":0.98},{"p":5,"k":"m","v":30,"f":1},{"p":5,"k":"m","v":400,"f":1},
{"p":5,"k":"c","c":1,"v":-400,"f":1},{"p":5,"k":"c","c":1,"v":-30,"f":1},{"p":5,"k":"c","c":1,"v":-22,"f":0.98},{"p":5,"k":"c","c":1,"v":-15,"f":0.9},{"p":5,"k":"c","c":1,"v":-10,"f":0.8},{"p":5,"k":"c","c":1,"v":-5,"f":0.68},{"p":5,"k":"c","c":1,"v":0,"f":0.63},{"p":5,"k":"c","c":1,"v":5,"f":0.68},{"p":5,"k":"c","c":1,"v":10,"f":0.8},{"p":5,"k":"c","c":1,"v":15,"f":0.9},{"p":5,"k":"c","c":1,"v":22,"f":0.98},{"p":5,"k":"c","c":1,"v":30,"f":1},{"p":5,"k":"c","c":1,"v":400,"f":1},

{"p":6,"k":"s","v":-396,"f":0.98},{"p":6,"k":"s","v":-383,"f":0.95},{"p":6,"k":"s","v":-370,"f":1.0},{"p":6,"k":"s","v":-357,"f":0.98},{"p":6,"k":"s","v":-345,"f":1.02},{"p":6,"k":"s","v":-332,"f":0.96},{"p":6,"k":"s","v":-320,"f":1.0},{"p":6,"k":"s","v":-307,"f":1.05},{"p":6,"k":"s","v":-295,"f":0.97},{"p":6,"k":"s","v":-282,"f":1.0},{"p":6,"k":"s","v":-270,"f":0.94},{"p":6,"k":"s","v":-257,"f":1.0},{"p":6,"k":"s","v":-245,"f":0.98},{"p":6,"k":"s","v":-232,"f":1.03},{"p":6,"k":"s","v":-220,"f":0.97},{"p":6,"k":"s","v":-207,"f":0.93},{"p":6,"k":"s","v":-195,"f":1.02},{"p":6,"k":"s","v":-182,"f":0.98},{"p":6,"k":"s","v":-170,"f":1.0},{"p":6,"k":"s","v":-157,"f":0.96},{"p":6,"k":"s","v":-145,"f":0.99},{"p":6,"k":"s","v":-132,"f":0.95},{"p":6,"k":"s","v":-120,"f":0.97},{"p":6,"k":"s","v":-107,"f":0.9},{"p":6,"k":"s","v":-95,"f":0.85},{"p":6,"k":"s","v":-85,"f":0.75},{"p":6,"k":"s","v":-75,"f":0.6},{"p":6,"k":"s","v":-65,"f":0.5},{"p":6,"k":"s","v":-55,"f":0.42},{"p":6,"k":"s","v":-45,"f":0.38},{"p":6,"k":"s","v":-35,"f":0.5},{"p":6,"k":"s","v":-25,"f":0.68},{"p":6,"k":"s","v":-17,"f":0.72},{"p":6,"k":"s","v":-8,"f":0.6},{"p":6,"k":"s","v":0,"f":0.48},{"p":6,"k":"s","v":8,"f":0.45},{"p":6,"k":"s","v":16,"f":0.55},{"p":6,"k":"s","v":25,"f":0.8},{"p":6,"k":"s","v":33,"f":0.95},{"p":6,"k":"s","v":42,"f":1.05},{"p":6,"k":"s","v":52,"f":1.02},{"p":6,"k":"s","v":62,"f":1.08},{"p":6,"k":"s","v":72,"f":0.97},{"p":6,"k":"s","v":82,"f":1.0},{"p":6,"k":"s","v":92,"f":1.13},{"p":6,"k":"s","v":102,"f":1.0},{"p":6,"k":"s","v":115,"f":1.0},{"p":6,"k":"s","v":128,"f":0.99},{"p":6,"k":"s","v":141,"f":0.97},{"p":6,"k":"s","v":154,"f":1.02},{"p":6,"k":"s","v":167,"f":0.95},{"p":6,"k":"s","v":180,"f":1.0},{"p":6,"k":"s","v":193,"f":0.93},{"p":6,"k":"s","v":206,"f":0.97},{"p":6,"k":"s","v":219,"f":1.03},{"p":6,"k":"s","v":232,"f":0.98},{"p":6,"k":"s","v":245,"f":1.04},{"p":6,"k":"s","v":258,"f":0.97},{"p":6,"k":"s","v":271,"f":1.0},{"p":6,"k":"s","v":284,"f":0.95},{"p":6,"k":"s","v":297,"f":0.99},{"p":6,"k":"s","v":310,"f":1.03},{"p":6,"k":"s","v":323,"f":0.97},{"p":6,"k":"s","v":336,"f":0.9},{"p":6,"k":"s","v":349,"f":0.78},{"p":6,"k":"s","v":362,"f":1.0},{"p":6,"k":"s","v":375,"f":1.05},{"p":6,"k":"s","v":388,"f":0.9},{"p":6,"k":"s","v":400,"f":0.9},
{"p":6,"k":"m","v":-400,"f":1},{"p":6,"k":"m","v":-110,"f":1},{"p":6,"k":"m","v":-98,"f":0.99},{"p":6,"k":"m","v":-88,"f":0.97},{"p":6,"k":"m","v":-78,"f":0.88},{"p":6,"k":"m","v":-68,"f":0.7},{"p":6,"k":"m","v":-58,"f":0.52},{"p":6,"k":"m","v":-48,"f":0.44},{"p":6,"k":"m","v":-38,"f":0.51},{"p":6,"k":"m","v":-28,"f":0.66},{"p":6,"k":"m","v":-20,"f":0.7},{"p":6,"k":"m","v":-12,"f":0.62},{"p":6,"k":"m","v":-4,"f":0.51},{"p":6,"k":"m","v":6,"f":0.45},{"p":6,"k":"m","v":16,"f":0.52},{"p":6,"k":"m","v":26,"f":0.7},{"p":6,"k":"m","v":36,"f":0.88},{"p":6,"k":"m","v":46,"f":0.97},{"p":6,"k":"m","v":56,"f":1},{"p":6,"k":"m","v":400,"f":1},
{"p":6,"k":"c","c":1,"v":-400,"f":1},{"p":6,"k":"c","c":1,"v":-98,"f":1},{"p":6,"k":"c","c":1,"v":-88,"f":0.97},{"p":6,"k":"c","c":1,"v":-78,"f":0.88},{"p":6,"k":"c","c":1,"v":-68,"f":0.7},{"p":6,"k":"c","c":1,"v":-58,"f":0.52},{"p":6,"k":"c","c":1,"v":-48,"f":0.44},{"p":6,"k":"c","c":1,"v":-38,"f":0.52},{"p":6,"k":"c","c":1,"v":-28,"f":0.7},{"p":6,"k":"c","c":1,"v":-18,"f":0.88},{"p":6,"k":"c","c":1,"v":-8,"f":0.97},{"p":6,"k":"c","c":1,"v":2,"f":1},{"p":6,"k":"c","c":1,"v":400,"f":1},
{"p":6,"k":"c","c":2,"v":-400,"f":1},{"p":6,"k":"c","c":2,"v":-44,"f":1},{"p":6,"k":"c","c":2,"v":-34,"f":0.97},{"p":6,"k":"c","c":2,"v":-24,"f":0.88},{"p":6,"k":"c","c":2,"v":-14,"f":0.7},{"p":6,"k":"c","c":2,"v":-4,"f":0.52},{"p":6,"k":"c","c":2,"v":6,"f":0.45},{"p":6,"k":"c","c":2,"v":16,"f":0.52},{"p":6,"k":"c","c":2,"v":26,"f":0.7},{"p":6,"k":"c","c":2,"v":36,"f":0.88},{"p":6,"k":"c","c":2,"v":46,"f":0.97},{"p":6,"k":"c","c":2,"v":56,"f":1},{"p":6,"k":"c","c":2,"v":400,"f":1},

{"p":7,"k":"s","v":-395,"f":0.89},{"p":7,"k":"s","v":-386,"f":1.02},{"p":7,"k":"s","v":-372,"f":0.92},{"p":7,"k":"s","v":-359,"f":0.99},{"p":7,"k":"s","v":-345,"f":0.97},{"p":7,"k":"s","v":-334,"f":1.01},{"p":7,"k":"s","v":-322,"f":0.96},{"p":7,"k":"s","v":-310,"f":1.0},{"p":7,"k":"s","v":-299,"f":0.95},{"p":7,"k":"s","v":-288,"f":0.99},{"p":7,"k":"s","v":-276,"f":0.92},{"p":7,"k":"s","v":-262,"f":0.86},{"p":7,"k":"s","v":-249,"f":0.89},{"p":7,"k":"s","v":-230,"f":0.83},{"p":7,"k":"s","v":-217,"f":0.61},{"p":7,"k":"s","v":-207,"f":0.74},{"p":7,"k":"s","v":-194,"f":0.58},{"p":7,"k":"s","v":-184,"f":0.67},{"p":7,"k":"s","v":-175,"f":0.74},{"p":7,"k":"s","v":-157,"f":0.67},{"p":7,"k":"s","v":-143,"f":0.36},{"p":7,"k":"s","v":-134,"f":0.64},{"p":7,"k":"s","v":-128,"f":0.17},{"p":7,"k":"s","v":-118,"f":0.01},{"p":7,"k":"s","v":-97,"f":-0.05},{"p":7,"k":"s","v":-84,"f":-0.01},{"p":7,"k":"s","v":-65,"f":-0.05},{"p":7,"k":"s","v":-51,"f":0.01},{"p":7,"k":"s","v":-38,"f":-0.08},{"p":7,"k":"s","v":-28,"f":0.01},{"p":7,"k":"s","v":-10,"f":0.06},{"p":7,"k":"s","v":-1,"f":-0.02},{"p":7,"k":"s","v":13,"f":0.01},{"p":7,"k":"s","v":27,"f":0.04},{"p":7,"k":"s","v":36,"f":0.86},{"p":7,"k":"s","v":43,"f":1.0},{"p":7,"k":"s","v":54,"f":0.83},{"p":7,"k":"s","v":68,"f":0.87},{"p":7,"k":"s","v":77,"f":1.04},{"p":7,"k":"s","v":91,"f":1.06},{"p":7,"k":"s","v":105,"f":1.1},{"p":7,"k":"s","v":118,"f":1.06},{"p":7,"k":"s","v":127,"f":0.97},{"p":7,"k":"s","v":141,"f":1.02},{"p":7,"k":"s","v":155,"f":0.99},{"p":7,"k":"s","v":169,"f":1.02},{"p":7,"k":"s","v":183,"f":0.74},{"p":7,"k":"s","v":194,"f":0.96},{"p":7,"k":"s","v":205,"f":1.0},{"p":7,"k":"s","v":224,"f":0.92},{"p":7,"k":"s","v":238,"f":1.07},{"p":7,"k":"s","v":247,"f":0.97},{"p":7,"k":"s","v":265,"f":0.96},{"p":7,"k":"s","v":283,"f":1.02},{"p":7,"k":"s","v":297,"f":1.05},{"p":7,"k":"s","v":311,"f":0.97},{"p":7,"k":"s","v":325,"f":0.92},{"p":7,"k":"s","v":339,"f":0.86},{"p":7,"k":"s","v":348,"f":0.96},{"p":7,"k":"s","v":361,"f":0.9},{"p":7,"k":"s","v":371,"f":0.8},{"p":7,"k":"s","v":380,"f":0.92},{"p":7,"k":"s","v":389,"f":0.98},{"p":7,"k":"s","v":398,"f":0.98},
{"p":7,"k":"m","v":-400,"f":1},{"p":7,"k":"m","v":-260,"f":1},{"p":7,"k":"m","v":-240,"f":0.98},{"p":7,"k":"m","v":-220,"f":0.93},{"p":7,"k":"m","v":-200,"f":0.84},{"p":7,"k":"m","v":-185,"f":0.76},{"p":7,"k":"m","v":-171,"f":0.72},{"p":7,"k":"m","v":-160,"f":0.73},{"p":7,"k":"m","v":-150,"f":0.68},{"p":7,"k":"m","v":-144,"f":0.55},{"p":7,"k":"m","v":-139,"f":0.36},{"p":7,"k":"m","v":-136,"f":0.33},{"p":7,"k":"m","v":-132,"f":0.45},{"p":7,"k":"m","v":-129,"f":0.55},{"p":7,"k":"m","v":-125,"f":0.45},{"p":7,"k":"m","v":-121,"f":0.1},{"p":7,"k":"m","v":-117,"f":0.01},{"p":7,"k":"m","v":30,"f":0.01},{"p":7,"k":"m","v":33,"f":0.4},{"p":7,"k":"m","v":36,"f":0.85},{"p":7,"k":"m","v":40,"f":0.94},{"p":7,"k":"m","v":60,"f":0.96},{"p":7,"k":"m","v":80,"f":0.97},{"p":7,"k":"m","v":100,"f":0.99},{"p":7,"k":"m","v":120,"f":1},{"p":7,"k":"m","v":400,"f":1},
{"p":7,"k":"c","c":1,"v":-400,"f":1},{"p":7,"k":"c","c":1,"v":-270,"f":1},{"p":7,"k":"c","c":1,"v":-250,"f":0.98},{"p":7,"k":"c","c":1,"v":-230,"f":0.94},{"p":7,"k":"c","c":1,"v":-215,"f":0.88},{"p":7,"k":"c","c":1,"v":-200,"f":0.8},{"p":7,"k":"c","c":1,"v":-185,"f":0.74},{"p":7,"k":"c","c":1,"v":-171,"f":0.72},{"p":7,"k":"c","c":1,"v":-157,"f":0.74},{"p":7,"k":"c","c":1,"v":-142,"f":0.8},{"p":7,"k":"c","c":1,"v":-127,"f":0.88},{"p":7,"k":"c","c":1,"v":-112,"f":0.94},{"p":7,"k":"c","c":1,"v":-92,"f":0.98},{"p":7,"k":"c","c":1,"v":-72,"f":1},{"p":7,"k":"c","c":1,"v":400,"f":1},
{"p":7,"k":"c","c":2,"v":-400,"f":1},{"p":7,"k":"c","c":2,"v":-152,"f":1},{"p":7,"k":"c","c":2,"v":-147,"f":0.93},{"p":7,"k":"c","c":2,"v":-143,"f":0.7},{"p":7,"k":"c","c":2,"v":-139,"f":0.45},{"p":7,"k":"c","c":2,"v":-137,"f":0.4},{"p":7,"k":"c","c":2,"v":-135,"f":0.45},{"p":7,"k":"c","c":2,"v":-131,"f":0.7},{"p":7,"k":"c","c":2,"v":-127,"f":0.93},{"p":7,"k":"c","c":2,"v":-122,"f":1},{"p":7,"k":"c","c":2,"v":400,"f":1},
{"p":7,"k":"c","c":3,"v":-400,"f":1},{"p":7,"k":"c","c":3,"v":-130,"f":1},{"p":7,"k":"c","c":3,"v":-127,"f":0.6},{"p":7,"k":"c","c":3,"v":-123,"f":0.1},{"p":7,"k":"c","c":3,"v":-119,"f":0.01},{"p":7,"k":"c","c":3,"v":28,"f":0.01},{"p":7,"k":"c","c":3,"v":32,"f":0.3},{"p":7,"k":"c","c":3,"v":35,"f":0.8},{"p":7,"k":"c","c":3,"v":38,"f":0.97},{"p":7,"k":"c","c":3,"v":42,"f":1},{"p":7,"k":"c","c":3,"v":400,"f":1},
{"p":7,"k":"c","c":4,"v":-400,"f":1},{"p":7,"k":"c","c":4,"v":-180,"f":1},{"p":7,"k":"c","c":4,"v":-140,"f":0.995},{"p":7,"k":"c","c":4,"v":-100,"f":0.985},{"p":7,"k":"c","c":4,"v":-60,"f":0.97},{"p":7,"k":"c","c":4,"v":-20,"f":0.955},{"p":7,"k":"c","c":4,"v":10,"f":0.95},{"p":7,"k":"c","c":4,"v":40,"f":0.955},{"p":7,"k":"c","c":4,"v":70,"f":0.97},{"p":7,"k":"c","c":4,"v":100,"f":0.985},{"p":7,"k":"c","c":4,"v":130,"f":0.995},{"p":7,"k":"c","c":4,"v":160,"f":1},{"p":7,"k":"c","c":4,"v":400,"f":1},

{"p":8,"k":"s","v":-392,"f":0.98},{"p":8,"k":"s","v":-382,"f":1.08},{"p":8,"k":"s","v":-372,"f":0.97},{"p":8,"k":"s","v":-363,"f":1.05},{"p":8,"k":"s","v":-354,"f":0.95},{"p":8,"k":"s","v":-345,"f":1.03},{"p":8,"k":"s","v":-336,"f":0.88},{"p":8,"k":"s","v":-327,"f":1.0},{"p":8,"k":"s","v":-317,"f":0.98},{"p":8,"k":"s","v":-308,"f":0.93},{"p":8,"k":"s","v":-299,"f":1.0},{"p":8,"k":"s","v":-290,"f":1.02},{"p":8,"k":"s","v":-281,"f":0.96},{"p":8,"k":"s","v":-272,"f":1.01},{"p":8,"k":"s","v":-262,"f":0.93},{"p":8,"k":"s","v":-253,"f":0.99},{"p":8,"k":"s","v":-244,"f":0.95},{"p":8,"k":"s","v":-235,"f":1.02},{"p":8,"k":"s","v":-226,"f":0.97},{"p":8,"k":"s","v":-217,"f":0.92},{"p":8,"k":"s","v":-208,"f":1.0},{"p":8,"k":"s","v":-198,"f":0.97},{"p":8,"k":"s","v":-189,"f":0.93},{"p":8,"k":"s","v":-180,"f":0.99},{"p":8,"k":"s","v":-171,"f":0.95},{"p":8,"k":"s","v":-162,"f":1.0},{"p":8,"k":"s","v":-152,"f":0.9},{"p":8,"k":"s","v":-143,"f":0.96},{"p":8,"k":"s","v":-134,"f":0.93},{"p":8,"k":"s","v":-125,"f":0.97},{"p":8,"k":"s","v":-116,"f":0.9},{"p":8,"k":"s","v":-106,"f":0.85},{"p":8,"k":"s","v":-97,"f":0.95},{"p":8,"k":"s","v":-88,"f":0.98},{"p":8,"k":"s","v":-79,"f":0.93},{"p":8,"k":"s","v":-70,"f":0.96},{"p":8,"k":"s","v":-60,"f":0.95},{"p":8,"k":"s","v":-51,"f":0.9},{"p":8,"k":"s","v":-42,"f":0.82},{"p":8,"k":"s","v":-33,"f":0.6},{"p":8,"k":"s","v":-24,"f":0.38},{"p":8,"k":"s","v":-15,"f":0.35},{"p":8,"k":"s","v":-6,"f":0.52},{"p":8,"k":"s","v":3,"f":0.65},{"p":8,"k":"s","v":12,"f":0.62},{"p":8,"k":"s","v":21,"f":0.8},{"p":8,"k":"s","v":30,"f":0.97},{"p":8,"k":"s","v":40,"f":1.05},{"p":8,"k":"s","v":50,"f":0.97},{"p":8,"k":"s","v":59,"f":1.02},{"p":8,"k":"s","v":68,"f":0.99},{"p":8,"k":"s","v":77,"f":1.05},{"p":8,"k":"s","v":86,"f":0.92},{"p":8,"k":"s","v":95,"f":0.99},{"p":8,"k":"s","v":104,"f":0.96},{"p":8,"k":"s","v":114,"f":0.88},{"p":8,"k":"s","v":123,"f":0.98},{"p":8,"k":"s","v":132,"f":1.02},{"p":8,"k":"s","v":141,"f":0.95},{"p":8,"k":"s","v":150,"f":0.92},{"p":8,"k":"s","v":160,"f":1.05},{"p":8,"k":"s","v":169,"f":0.97},{"p":8,"k":"s","v":178,"f":1.08},{"p":8,"k":"s","v":187,"f":1.0},{"p":8,"k":"s","v":196,"f":0.95},{"p":8,"k":"s","v":206,"f":1.05},{"p":8,"k":"s","v":215,"f":0.93},{"p":8,"k":"s","v":224,"f":1.0},{"p":8,"k":"s","v":233,"f":0.97},{"p":8,"k":"s","v":242,"f":1.06},{"p":8,"k":"s","v":252,"f":0.95},{"p":8,"k":"s","v":261,"f":1.03},{"p":8,"k":"s","v":270,"f":0.9},{"p":8,"k":"s","v":279,"f":1.04},{"p":8,"k":"s","v":288,"f":0.97},{"p":8,"k":"s","v":298,"f":1.06},{"p":8,"k":"s","v":307,"f":1.0},{"p":8,"k":"s","v":316,"f":0.93},{"p":8,"k":"s","v":325,"f":1.0},{"p":8,"k":"s","v":334,"f":0.95},{"p":8,"k":"s","v":344,"f":0.98},{"p":8,"k":"s","v":353,"f":1.03},{"p":8,"k":"s","v":362,"f":0.97},{"p":8,"k":"s","v":371,"f":1.05},{"p":8,"k":"s","v":380,"f":0.98},{"p":8,"k":"s","v":390,"f":1.02},{"p":8,"k":"s","v":400,"f":1.02},
{"p":8,"k":"m","v":-400,"f":1},{"p":8,"k":"m","v":-56,"f":1},{"p":8,"k":"m","v":-46,"f":0.98},{"p":8,"k":"m","v":-40,"f":0.92},{"p":8,"k":"m","v":-34,"f":0.79},{"p":8,"k":"m","v":-28,"f":0.58},{"p":8,"k":"m","v":-22,"f":0.42},{"p":8,"k":"m","v":-16,"f":0.36},{"p":8,"k":"m","v":-10,"f":0.42},{"p":8,"k":"m","v":-4,"f":0.57},{"p":8,"k":"m","v":2,"f":0.7},{"p":8,"k":"m","v":6,"f":0.68},{"p":8,"k":"m","v":10,"f":0.62},{"p":8,"k":"m","v":14,"f":0.72},{"p":8,"k":"m","v":18,"f":0.88},{"p":8,"k":"m","v":24,"f":0.98},{"p":8,"k":"m","v":32,"f":1},{"p":8,"k":"m","v":400,"f":1},
{"p":8,"k":"c","c":1,"v":-400,"f":1},{"p":8,"k":"c","c":1,"v":-56,"f":1},{"p":8,"k":"c","c":1,"v":-46,"f":0.98},{"p":8,"k":"c","c":1,"v":-40,"f":0.92},{"p":8,"k":"c","c":1,"v":-34,"f":0.79},{"p":8,"k":"c","c":1,"v":-28,"f":0.58},{"p":8,"k":"c","c":1,"v":-22,"f":0.42},{"p":8,"k":"c","c":1,"v":-16,"f":0.36},{"p":8,"k":"c","c":1,"v":-10,"f":0.42},{"p":8,"k":"c","c":1,"v":-4,"f":0.58},{"p":8,"k":"c","c":1,"v":2,"f":0.79},{"p":8,"k":"c","c":1,"v":8,"f":0.92},{"p":8,"k":"c","c":1,"v":14,"f":0.98},{"p":8,"k":"c","c":1,"v":24,"f":1},{"p":8,"k":"c","c":1,"v":400,"f":1},
{"p":8,"k":"c","c":2,"v":-400,"f":1},{"p":8,"k":"c","c":2,"v":-4,"f":1},{"p":8,"k":"c","c":2,"v":2,"f":0.93},{"p":8,"k":"c","c":2,"v":6,"f":0.8},{"p":8,"k":"c","c":2,"v":10,"f":0.66},{"p":8,"k":"c","c":2,"v":14,"f":0.75},{"p":8,"k":"c","c":2,"v":18,"f":0.9},{"p":8,"k":"c","c":2,"v":24,"f":0.98},{"p":8,"k":"c","c":2,"v":30,"f":1},{"p":8,"k":"c","c":2,"v":400,"f":1},

{"p":9,"k":"s","v":-396,"f":0.97},{"p":9,"k":"s","v":-384,"f":0.99},{"p":9,"k":"s","v":-372,"f":0.98},{"p":9,"k":"s","v":-360,"f":1.0},{"p":9,"k":"s","v":-348,"f":0.97},{"p":9,"k":"s","v":-337,"f":1.01},{"p":9,"k":"s","v":-326,"f":0.88},{"p":9,"k":"s","v":-317,"f":1.0},{"p":9,"k":"s","v":-308,"f":0.99},{"p":9,"k":"s","v":-299,"f":1.0},{"p":9,"k":"s","v":-290,"f":0.97},{"p":9,"k":"s","v":-280,"f":0.8},{"p":9,"k":"s","v":-267,"f":0.82},{"p":9,"k":"s","v":-253,"f":0.88},{"p":9,"k":"s","v":-242,"f":0.9},{"p":9,"k":"s","v":-232,"f":0.86},{"p":9,"k":"s","v":-221,"f":1.12},{"p":9,"k":"s","v":-212,"f":0.88},{"p":9,"k":"s","v":-200,"f":0.9},{"p":9,"k":"s","v":-189,"f":0.85},{"p":9,"k":"s","v":-180,"f":0.87},{"p":9,"k":"s","v":-170,"f":0.8},{"p":9,"k":"s","v":-156,"f":0.95},{"p":9,"k":"s","v":-143,"f":0.88},{"p":9,"k":"s","v":-129,"f":0.9},{"p":9,"k":"s","v":-115,"f":0.92},{"p":9,"k":"s","v":-106,"f":0.88},{"p":9,"k":"s","v":-97,"f":0.9},{"p":9,"k":"s","v":-85,"f":0.85},{"p":9,"k":"s","v":-74,"f":0.75},{"p":9,"k":"s","v":-60,"f":0.6},{"p":9,"k":"s","v":-46,"f":0.68},{"p":9,"k":"s","v":-32,"f":0.85},{"p":9,"k":"s","v":-14,"f":0.72},{"p":9,"k":"s","v":-5,"f":0.6},{"p":9,"k":"s","v":9,"f":0.72},{"p":9,"k":"s","v":23,"f":0.95},{"p":9,"k":"s","v":41,"f":0.97},{"p":9,"k":"s","v":55,"f":1.0},{"p":9,"k":"s","v":70,"f":0.95},{"p":9,"k":"s","v":87,"f":0.85},{"p":9,"k":"s","v":106,"f":0.95},{"p":9,"k":"s","v":125,"f":0.97},{"p":9,"k":"s","v":143,"f":1.05},{"p":9,"k":"s","v":161,"f":0.98},{"p":9,"k":"s","v":179,"f":0.95},{"p":9,"k":"s","v":193,"f":0.98},{"p":9,"k":"s","v":207,"f":0.98},{"p":9,"k":"s","v":221,"f":1.0},{"p":9,"k":"s","v":234,"f":1.02},{"p":9,"k":"s","v":253,"f":0.95},{"p":9,"k":"s","v":271,"f":1.05},{"p":9,"k":"s","v":290,"f":0.92},{"p":9,"k":"s","v":308,"f":0.9},{"p":9,"k":"s","v":327,"f":0.92},{"p":9,"k":"s","v":345,"f":0.95},{"p":9,"k":"s","v":363,"f":1.0},{"p":9,"k":"s","v":377,"f":0.97},{"p":9,"k":"s","v":391,"f":1.1},{"p":9,"k":"s","v":400,"f":1.1},
{"p":9,"k":"m","v":-400,"f":1},{"p":9,"k":"m","v":-110,"f":1},{"p":9,"k":"m","v":-98,"f":0.99},{"p":9,"k":"m","v":-88,"f":0.98},{"p":9,"k":"m","v":-78,"f":0.935},{"p":9,"k":"m","v":-68,"f":0.83},{"p":9,"k":"m","v":-58,"f":0.7},{"p":9,"k":"m","v":-48,"f":0.65},{"p":9,"k":"m","v":-38,"f":0.69},{"p":9,"k":"m","v":-28,"f":0.8},{"p":9,"k":"m","v":-20,"f":0.83},{"p":9,"k":"m","v":-12,"f":0.78},{"p":9,"k":"m","v":-4,"f":0.7},{"p":9,"k":"m","v":6,"f":0.65},{"p":9,"k":"m","v":16,"f":0.7},{"p":9,"k":"m","v":26,"f":0.83},{"p":9,"k":"m","v":36,"f":0.935},{"p":9,"k":"m","v":46,"f":0.98},{"p":9,"k":"m","v":56,"f":1},{"p":9,"k":"m","v":400,"f":1},
{"p":9,"k":"c","c":1,"v":-400,"f":1},{"p":9,"k":"c","c":1,"v":-98,"f":1},{"p":9,"k":"c","c":1,"v":-88,"f":0.98},{"p":9,"k":"c","c":1,"v":-78,"f":0.935},{"p":9,"k":"c","c":1,"v":-68,"f":0.83},{"p":9,"k":"c","c":1,"v":-58,"f":0.7},{"p":9,"k":"c","c":1,"v":-48,"f":0.65},{"p":9,"k":"c","c":1,"v":-38,"f":0.7},{"p":9,"k":"c","c":1,"v":-28,"f":0.83},{"p":9,"k":"c","c":1,"v":-18,"f":0.935},{"p":9,"k":"c","c":1,"v":-8,"f":0.98},{"p":9,"k":"c","c":1,"v":2,"f":1},{"p":9,"k":"c","c":1,"v":400,"f":1},
{"p":9,"k":"c","c":2,"v":-400,"f":1},{"p":9,"k":"c","c":2,"v":-44,"f":1},{"p":9,"k":"c","c":2,"v":-34,"f":0.98},{"p":9,"k":"c","c":2,"v":-24,"f":0.935},{"p":9,"k":"c","c":2,"v":-14,"f":0.83},{"p":9,"k":"c","c":2,"v":-4,"f":0.7},{"p":9,"k":"c","c":2,"v":6,"f":0.65},{"p":9,"k":"c","c":2,"v":16,"f":0.7},{"p":9,"k":"c","c":2,"v":26,"f":0.83},{"p":9,"k":"c","c":2,"v":36,"f":0.935},{"p":9,"k":"c","c":2,"v":46,"f":0.98},{"p":9,"k":"c","c":2,"v":56,"f":1},{"p":9,"k":"c","c":2,"v":400,"f":1},

{"p":10,"k":"s","v":-392,"f":1.0},{"p":10,"k":"s","v":-382,"f":1.08},{"p":10,"k":"s","v":-372,"f":0.9},{"p":10,"k":"s","v":-363,"f":0.75},{"p":10,"k":"s","v":-354,"f":0.6},{"p":10,"k":"s","v":-345,"f":0.65},{"p":10,"k":"s","v":-336,"f":0.55},{"p":10,"k":"s","v":-327,"f":0.5},{"p":10,"k":"s","v":-317,"f":0.45},{"p":10,"k":"s","v":-304,"f":0.6},{"p":10,"k":"s","v":-294,"f":0.7},{"p":10,"k":"s","v":-281,"f":0.75},{"p":10,"k":"s","v":-272,"f":0.82},{"p":10,"k":"s","v":-262,"f":0.72},{"p":10,"k":"s","v":-249,"f":0.68},{"p":10,"k":"s","v":-235,"f":0.55},{"p":10,"k":"s","v":-221,"f":0.45},{"p":10,"k":"s","v":-212,"f":0.27},{"p":10,"k":"s","v":-184,"f":0.38},{"p":10,"k":"s","v":-171,"f":0.75},{"p":10,"k":"s","v":-157,"f":0.5},{"p":10,"k":"s","v":-143,"f":0.45},{"p":10,"k":"s","v":-129,"f":0.3},{"p":10,"k":"s","v":-116,"f":0.22},{"p":10,"k":"s","v":-106,"f":0.1},{"p":10,"k":"s","v":-97,"f":0.18},{"p":10,"k":"s","v":-84,"f":0.05},{"p":10,"k":"s","v":-70,"f":-0.02},{"p":10,"k":"s","v":-56,"f":0.03},{"p":10,"k":"s","v":-38,"f":0.04},{"p":10,"k":"s","v":-19,"f":0.05},{"p":10,"k":"s","v":-10,"f":-0.07},{"p":10,"k":"s","v":-1,"f":0.05},{"p":10,"k":"s","v":8,"f":0.03},{"p":10,"k":"s","v":17,"f":0.03},{"p":10,"k":"s","v":31,"f":0.0},{"p":10,"k":"s","v":40,"f":0.7},{"p":10,"k":"s","v":50,"f":0.85},{"p":10,"k":"s","v":59,"f":0.95},{"p":10,"k":"s","v":72,"f":1.0},{"p":10,"k":"s","v":91,"f":0.98},{"p":10,"k":"s","v":105,"f":0.85},{"p":10,"k":"s","v":118,"f":0.9},{"p":10,"k":"s","v":132,"f":0.82},{"p":10,"k":"s","v":146,"f":0.88},{"p":10,"k":"s","v":160,"f":0.92},{"p":10,"k":"s","v":173,"f":0.88},{"p":10,"k":"s","v":187,"f":0.92},{"p":10,"k":"s","v":201,"f":0.88},{"p":10,"k":"s","v":219,"f":0.95},{"p":10,"k":"s","v":233,"f":0.8},{"p":10,"k":"s","v":247,"f":0.88},{"p":10,"k":"s","v":261,"f":0.9},{"p":10,"k":"s","v":274,"f":0.88},{"p":10,"k":"s","v":288,"f":0.88},{"p":10,"k":"s","v":302,"f":0.55},{"p":10,"k":"s","v":316,"f":0.6},{"p":10,"k":"s","v":325,"f":0.7},{"p":10,"k":"s","v":334,"f":0.8},{"p":10,"k":"s","v":348,"f":1.0},{"p":10,"k":"s","v":361,"f":0.98},{"p":10,"k":"s","v":375,"f":0.65},{"p":10,"k":"s","v":384,"f":0.6},{"p":10,"k":"s","v":390,"f":0.6},
{"p":10,"k":"m","v":-400,"f":1},{"p":10,"k":"m","v":-225,"f":1},{"p":10,"k":"m","v":-210,"f":0.98},{"p":10,"k":"m","v":-195,"f":0.93},{"p":10,"k":"m","v":-180,"f":0.85},{"p":10,"k":"m","v":-165,"f":0.73},{"p":10,"k":"m","v":-150,"f":0.55},{"p":10,"k":"m","v":-140,"f":0.42},{"p":10,"k":"m","v":-129,"f":0.3},{"p":10,"k":"m","v":-118,"f":0.18},{"p":10,"k":"m","v":-108,"f":0.1},{"p":10,"k":"m","v":-98,"f":0.05},{"p":10,"k":"m","v":-85,"f":0.02},{"p":10,"k":"m","v":-30,"f":0.02},{"p":10,"k":"m","v":-15,"f":0.04},{"p":10,"k":"m","v":-11,"f":0.06},{"p":10,"k":"m","v":-8,"f":0.02},{"p":10,"k":"m","v":30,"f":0.02},{"p":10,"k":"m","v":34,"f":0.2},{"p":10,"k":"m","v":38,"f":0.6},{"p":10,"k":"m","v":43,"f":0.9},{"p":10,"k":"m","v":50,"f":0.98},{"p":10,"k":"m","v":60,"f":1},{"p":10,"k":"m","v":400,"f":1},
{"p":10,"k":"c","c":1,"v":-400,"f":1},{"p":10,"k":"c","c":1,"v":-230,"f":1},{"p":10,"k":"c","c":1,"v":-200,"f":0.97},{"p":10,"k":"c","c":1,"v":-180,"f":0.9},{"p":10,"k":"c","c":1,"v":-160,"f":0.78},{"p":10,"k":"c","c":1,"v":-145,"f":0.72},{"p":10,"k":"c","c":1,"v":-129,"f":0.7},{"p":10,"k":"c","c":1,"v":-113,"f":0.72},{"p":10,"k":"c","c":1,"v":-98,"f":0.78},{"p":10,"k":"c","c":1,"v":-78,"f":0.9},{"p":10,"k":"c","c":1,"v":-58,"f":0.97},{"p":10,"k":"c","c":1,"v":-30,"f":1},{"p":10,"k":"c","c":1,"v":400,"f":1},
{"p":10,"k":"c","c":2,"v":-400,"f":1},{"p":10,"k":"c","c":2,"v":-190,"f":1},{"p":10,"k":"c","c":2,"v":-170,"f":0.95},{"p":10,"k":"c","c":2,"v":-150,"f":0.75},{"p":10,"k":"c","c":2,"v":-135,"f":0.5},{"p":10,"k":"c","c":2,"v":-120,"f":0.25},{"p":10,"k":"c","c":2,"v":-105,"f":0.1},{"p":10,"k":"c","c":2,"v":-90,"f":0.04},{"p":10,"k":"c","c":2,"v":-60,"f":0.03},{"p":10,"k":"c","c":2,"v":-30,"f":0.04},{"p":10,"k":"c","c":2,"v":-15,"f":0.1},{"p":10,"k":"c","c":2,"v":0,"f":0.3},{"p":10,"k":"c","c":2,"v":15,"f":0.6},{"p":10,"k":"c","c":2,"v":30,"f":0.85},{"p":10,"k":"c","c":2,"v":45,"f":0.97},{"p":10,"k":"c","c":2,"v":60,"f":1},{"p":10,"k":"c","c":2,"v":400,"f":1},
{"p":10,"k":"c","c":3,"v":-400,"f":1},{"p":10,"k":"c","c":3,"v":-25,"f":1},{"p":10,"k":"c","c":3,"v":-18,"f":0.9},{"p":10,"k":"c","c":3,"v":-14,"f":0.4},{"p":10,"k":"c","c":3,"v":-11,"f":0.05},{"p":10,"k":"c","c":3,"v":-8,"f":0.02},{"p":10,"k":"c","c":3,"v":33,"f":0.02},{"p":10,"k":"c","c":3,"v":37,"f":0.3},{"p":10,"k":"c","c":3,"v":41,"f":0.8},{"p":10,"k":"c","c":3,"v":46,"f":0.97},{"p":10,"k":"c","c":3,"v":52,"f":1},{"p":10,"k":"c","c":3,"v":400,"f":1},

{"p":11,"k":"s","v":-395,"f":0.97},{"p":11,"k":"s","v":-385,"f":1.0},{"p":11,"k":"s","v":-375,"f":0.95},{"p":11,"k":"s","v":-365,"f":0.98},{"p":11,"k":"s","v":-355,"f":1.02},{"p":11,"k":"s","v":-345,"f":0.93},{"p":11,"k":"s","v":-335,"f":0.97},{"p":11,"k":"s","v":-325,"f":1.0},{"p":11,"k":"s","v":-315,"f":0.92},{"p":11,"k":"s","v":-305,"f":0.96},{"p":11,"k":"s","v":-295,"f":0.99},{"p":11,"k":"s","v":-285,"f":0.9},{"p":11,"k":"s","v":-275,"f":0.95},{"p":11,"k":"s","v":-265,"f":0.98},{"p":11,"k":"s","v":-255,"f":0.93},{"p":11,"k":"s","v":-245,"f":0.97},{"p":11,"k":"s","v":-235,"f":1.0},{"p":11,"k":"s","v":-225,"f":0.94},{"p":11,"k":"s","v":-215,"f":0.9},{"p":11,"k":"s","v":-205,"f":0.96},{"p":11,"k":"s","v":-195,"f":0.99},{"p":11,"k":"s","v":-185,"f":0.92},{"p":11,"k":"s","v":-175,"f":0.96},{"p":11,"k":"s","v":-165,"f":0.93},{"p":11,"k":"s","v":-155,"f":0.97},{"p":11,"k":"s","v":-145,"f":0.9},{"p":11,"k":"s","v":-135,"f":0.95},{"p":11,"k":"s","v":-125,"f":0.92},{"p":11,"k":"s","v":-115,"f":0.97},{"p":11,"k":"s","v":-105,"f":0.9},{"p":11,"k":"s","v":-95,"f":0.93},{"p":11,"k":"s","v":-85,"f":0.85},{"p":11,"k":"s","v":-77,"f":0.55},{"p":11,"k":"s","v":-70,"f":0.2},{"p":11,"k":"s","v":-62,"f":0.08},{"p":11,"k":"s","v":-54,"f":0.06},{"p":11,"k":"s","v":-46,"f":0.02},{"p":11,"k":"s","v":-38,"f":0.05},{"p":11,"k":"s","v":-30,"f":0.0},{"p":11,"k":"s","v":-22,"f":0.03},{"p":11,"k":"s","v":-14,"f":-0.02},{"p":11,"k":"s","v":-6,"f":0.02},{"p":11,"k":"s","v":2,"f":0.0},{"p":11,"k":"s","v":10,"f":0.03},{"p":11,"k":"s","v":18,"f":0.15},{"p":11,"k":"s","v":26,"f":0.6},{"p":11,"k":"s","v":34,"f":0.92},{"p":11,"k":"s","v":42,"f":1.0},{"p":11,"k":"s","v":52,"f":0.97},{"p":11,"k":"s","v":62,"f":0.93},{"p":11,"k":"s","v":72,"f":0.98},{"p":11,"k":"s","v":82,"f":0.9},{"p":11,"k":"s","v":92,"f":0.95},{"p":11,"k":"s","v":102,"f":0.86},{"p":11,"k":"s","v":112,"f":0.92},{"p":11,"k":"s","v":122,"f":0.88},{"p":11,"k":"s","v":132,"f":0.95},{"p":11,"k":"s","v":142,"f":0.85},{"p":11,"k":"s","v":152,"f":0.9},{"p":11,"k":"s","v":162,"f":0.93},{"p":11,"k":"s","v":172,"f":0.87},{"p":11,"k":"s","v":182,"f":0.95},{"p":11,"k":"s","v":192,"f":0.9},{"p":11,"k":"s","v":202,"f":0.86},{"p":11,"k":"s","v":212,"f":0.93},{"p":11,"k":"s","v":222,"f":0.88},{"p":11,"k":"s","v":232,"f":0.95},{"p":11,"k":"s","v":242,"f":0.9},{"p":11,"k":"s","v":252,"f":0.97},{"p":11,"k":"s","v":262,"f":0.92},{"p":11,"k":"s","v":272,"f":0.88},{"p":11,"k":"s","v":282,"f":0.95},{"p":11,"k":"s","v":292,"f":0.92},{"p":11,"k":"s","v":302,"f":0.97},{"p":11,"k":"s","v":312,"f":0.9},{"p":11,"k":"s","v":322,"f":0.95},{"p":11,"k":"s","v":332,"f":0.98},{"p":11,"k":"s","v":342,"f":0.93},{"p":11,"k":"s","v":352,"f":0.97},{"p":11,"k":"s","v":362,"f":1.0},{"p":11,"k":"s","v":372,"f":0.95},{"p":11,"k":"s","v":382,"f":1.0},{"p":11,"k":"s","v":392,"f":0.98},{"p":11,"k":"s","v":397,"f":1.25},{"p":11,"k":"s","v":400,"f":1.25},
{"p":11,"k":"m","v":-400,"f":1},{"p":11,"k":"m","v":-100,"f":1},{"p":11,"k":"m","v":-90,"f":0.97},{"p":11,"k":"m","v":-80,"f":0.85},{"p":11,"k":"m","v":-72,"f":0.5},{"p":11,"k":"m","v":-66,"f":0.2},{"p":11,"k":"m","v":-60,"f":0.05},{"p":11,"k":"m","v":-52,"f":0.01},{"p":11,"k":"m","v":12,"f":0.01},{"p":11,"k":"m","v":16,"f":0.05},{"p":11,"k":"m","v":22,"f":0.3},{"p":11,"k":"m","v":28,"f":0.7},{"p":11,"k":"m","v":34,"f":0.93},{"p":11,"k":"m","v":40,"f":0.99},{"p":11,"k":"m","v":50,"f":1},{"p":11,"k":"m","v":400,"f":1},
{"p":11,"k":"c","c":1,"v":-400,"f":1},{"p":11,"k":"c","c":1,"v":-100,"f":1},{"p":11,"k":"c","c":1,"v":-90,"f":0.97},{"p":11,"k":"c","c":1,"v":-80,"f":0.85},{"p":11,"k":"c","c":1,"v":-72,"f":0.5},{"p":11,"k":"c","c":1,"v":-66,"f":0.2},{"p":11,"k":"c","c":1,"v":-60,"f":0.05},{"p":11,"k":"c","c":1,"v":-52,"f":0.01},{"p":11,"k":"c","c":1,"v":10,"f":0.01},{"p":11,"k":"c","c":1,"v":16,"f":0.05},{"p":11,"k":"c","c":1,"v":22,"f":0.3},{"p":11,"k":"c","c":1,"v":28,"f":0.7},{"p":11,"k":"c","c":1,"v":34,"f":0.93},{"p":11,"k":"c","c":1,"v":40,"f":0.99},{"p":11,"k":"c","c":1,"v":50,"f":1},{"p":11,"k":"c","c":1,"v":400,"f":1},
{"p":11,"k":"c","c":2,"v":-400,"f":1},{"p":11,"k":"c","c":2,"v":-32,"f":1},{"p":11,"k":"c","c":2,"v":-26,"f":0.9},{"p":11,"k":"c","c":2,"v":-21,"f":0.55},{"p":11,"k":"c","c":2,"v":-17,"f":0.32},{"p":11,"k":"c","c":2,"v":-13,"f":0.55},{"p":11,"k":"c","c":2,"v":-8,"f":0.9},{"p":11,"k":"c","c":2,"v":-2,"f":1},{"p":11,"k":"c","c":2,"v":400,"f":1},

{"p":12,"k":"s","v":-396,"f":1.0},{"p":12,"k":"s","v":-385,"f":0.97},{"p":12,"k":"s","v":-375,"f":1.05},{"p":12,"k":"s","v":-365,"f":0.98},{"p":12,"k":"s","v":-355,"f":1.02},{"p":12,"k":"s","v":-345,"f":0.95},{"p":12,"k":"s","v":-335,"f":1.0},{"p":12,"k":"s","v":-325,"f":0.97},{"p":12,"k":"s","v":-315,"f":1.06},{"p":12,"k":"s","v":-305,"f":0.96},{"p":12,"k":"s","v":-295,"f":1.0},{"p":12,"k":"s","v":-285,"f":0.93},{"p":12,"k":"s","v":-275,"f":1.02},{"p":12,"k":"s","v":-265,"f":0.88},{"p":12,"k":"s","v":-255,"f":1.0},{"p":12,"k":"s","v":-245,"f":0.96},{"p":12,"k":"s","v":-235,"f":1.05},{"p":12,"k":"s","v":-225,"f":0.98},{"p":12,"k":"s","v":-215,"f":0.95},{"p":12,"k":"s","v":-205,"f":1.03},{"p":12,"k":"s","v":-195,"f":0.97},{"p":12,"k":"s","v":-185,"f":1.0},{"p":12,"k":"s","v":-175,"f":0.95},{"p":12,"k":"s","v":-165,"f":0.98},{"p":12,"k":"s","v":-155,"f":0.9},{"p":12,"k":"s","v":-145,"f":0.7},{"p":12,"k":"s","v":-138,"f":0.58},{"p":12,"k":"s","v":-130,"f":0.65},{"p":12,"k":"s","v":-122,"f":0.85},{"p":12,"k":"s","v":-112,"f":0.97},{"p":12,"k":"s","v":-102,"f":0.93},{"p":12,"k":"s","v":-94,"f":0.8},{"p":12,"k":"s","v":-86,"f":0.45},{"p":12,"k":"s","v":-78,"f":0.12},{"p":12,"k":"s","v":-70,"f":0.01},{"p":12,"k":"s","v":-60,"f":-0.02},{"p":12,"k":"s","v":-50,"f":0.0},{"p":12,"k":"s","v":-40,"f":-0.01},{"p":12,"k":"s","v":-30,"f":0.01},{"p":12,"k":"s","v":-20,"f":-0.02},{"p":12,"k":"s","v":-10,"f":0.0},{"p":12,"k":"s","v":0,"f":0.02},{"p":12,"k":"s","v":10,"f":-0.01},{"p":12,"k":"s","v":18,"f":0.03},{"p":12,"k":"s","v":24,"f":0.35},{"p":12,"k":"s","v":30,"f":0.85},{"p":12,"k":"s","v":38,"f":1.02},{"p":12,"k":"s","v":48,"f":0.98},{"p":12,"k":"s","v":58,"f":1.01},{"p":12,"k":"s","v":68,"f":0.96},{"p":12,"k":"s","v":78,"f":1.03},{"p":12,"k":"s","v":88,"f":0.98},{"p":12,"k":"s","v":98,"f":1.0},{"p":12,"k":"s","v":108,"f":0.95},{"p":12,"k":"s","v":118,"f":1.02},{"p":12,"k":"s","v":128,"f":0.97},{"p":12,"k":"s","v":138,"f":1.0},{"p":12,"k":"s","v":148,"f":0.95},{"p":12,"k":"s","v":158,"f":1.03},{"p":12,"k":"s","v":168,"f":0.98},{"p":12,"k":"s","v":178,"f":1.0},{"p":12,"k":"s","v":188,"f":0.96},{"p":12,"k":"s","v":198,"f":1.02},{"p":12,"k":"s","v":208,"f":0.97},{"p":12,"k":"s","v":218,"f":1.0},{"p":12,"k":"s","v":228,"f":0.95},{"p":12,"k":"s","v":238,"f":1.02},{"p":12,"k":"s","v":248,"f":0.98},{"p":12,"k":"s","v":258,"f":1.03},{"p":12,"k":"s","v":268,"f":0.96},{"p":12,"k":"s","v":278,"f":1.0},{"p":12,"k":"s","v":288,"f":0.97},{"p":12,"k":"s","v":298,"f":1.02},{"p":12,"k":"s","v":308,"f":0.95},{"p":12,"k":"s","v":318,"f":1.0},{"p":12,"k":"s","v":328,"f":0.97},{"p":12,"k":"s","v":338,"f":1.03},{"p":12,"k":"s","v":348,"f":0.98},{"p":12,"k":"s","v":358,"f":1.0},{"p":12,"k":"s","v":368,"f":0.96},{"p":12,"k":"s","v":378,"f":1.02},{"p":12,"k":"s","v":388,"f":1.05},{"p":12,"k":"s","v":398,"f":1.0},
{"p":12,"k":"m","v":-400,"f":1},{"p":12,"k":"m","v":-165,"f":1},{"p":12,"k":"m","v":-155,"f":0.95},{"p":12,"k":"m","v":-145,"f":0.75},{"p":12,"k":"m","v":-136,"f":0.62},{"p":12,"k":"m","v":-128,"f":0.72},{"p":12,"k":"m","v":-118,"f":0.93},{"p":12,"k":"m","v":-110,"f":0.97},{"p":12,"k":"m","v":-100,"f":0.9},{"p":12,"k":"m","v":-92,"f":0.7},{"p":12,"k":"m","v":-84,"f":0.38},{"p":12,"k":"m","v":-76,"f":0.1},{"p":12,"k":"m","v":-68,"f":0.02},{"p":12,"k":"m","v":18,"f":0.02},{"p":12,"k":"m","v":23,"f":0.2},{"p":12,"k":"m","v":28,"f":0.6},{"p":12,"k":"m","v":33,"f":0.88},{"p":12,"k":"m","v":38,"f":0.98},{"p":12,"k":"m","v":45,"f":1},{"p":12,"k":"m","v":400,"f":1},
{"p":12,"k":"c","c":1,"v":-400,"f":1},{"p":12,"k":"c","c":1,"v":-160,"f":1},{"p":12,"k":"c","c":1,"v":-152,"f":0.95},{"p":12,"k":"c","c":1,"v":-144,"f":0.78},{"p":12,"k":"c","c":1,"v":-136,"f":0.62},{"p":12,"k":"c","c":1,"v":-128,"f":0.78},{"p":12,"k":"c","c":1,"v":-120,"f":0.95},{"p":12,"k":"c","c":1,"v":-112,"f":1},{"p":12,"k":"c","c":1,"v":400,"f":1},
{"p":12,"k":"c","c":2,"v":-400,"f":1},{"p":12,"k":"c","c":2,"v":-115,"f":1},{"p":12,"k":"c","c":2,"v":-105,"f":0.97},{"p":12,"k":"c","c":2,"v":-97,"f":0.88},{"p":12,"k":"c","c":2,"v":-90,"f":0.7},{"p":12,"k":"c","c":2,"v":-84,"f":0.4},{"p":12,"k":"c","c":2,"v":-76,"f":0.12},{"p":12,"k":"c","c":2,"v":-68,"f":0.02},{"p":12,"k":"c","c":2,"v":-5,"f":0.02},{"p":12,"k":"c","c":2,"v":3,"f":0.1},{"p":12,"k":"c","c":2,"v":11,"f":0.4},{"p":12,"k":"c","c":2,"v":19,"f":0.75},{"p":12,"k":"c","c":2,"v":27,"f":0.93},{"p":12,"k":"c","c":2,"v":35,"f":0.99},{"p":12,"k":"c","c":2,"v":42,"f":1},{"p":12,"k":"c","c":2,"v":400,"f":1},
{"p":12,"k":"c","c":3,"v":-400,"f":1},{"p":12,"k":"c","c":3,"v":-26,"f":1},{"p":12,"k":"c","c":3,"v":-21,"f":0.8},{"p":12,"k":"c","c":3,"v":-17,"f":0.3},{"p":12,"k":"c","c":3,"v":-13,"f":0.03},{"p":12,"k":"c","c":3,"v":15,"f":0.02},{"p":12,"k":"c","c":3,"v":20,"f":0.2},{"p":12,"k":"c","c":3,"v":25,"f":0.6},{"p":12,"k":"c","c":3,"v":30,"f":0.88},{"p":12,"k":"c","c":3,"v":36,"f":0.98},{"p":12,"k":"c","c":3,"v":42,"f":1},{"p":12,"k":"c","c":3,"v":400,"f":1},

{"p":13,"k":"s","v":-395,"f":1.0},{"p":13,"k":"s","v":-385,"f":0.97},{"p":13,"k":"s","v":-375,"f":1.05},{"p":13,"k":"s","v":-365,"f":0.98},{"p":13,"k":"s","v":-355,"f":1.02},{"p":13,"k":"s","v":-345,"f":0.93},{"p":13,"k":"s","v":-335,"f":1.0},{"p":13,"k":"s","v":-325,"f":0.97},{"p":13,"k":"s","v":-315,"f":1.03},{"p":13,"k":"s","v":-305,"f":0.95},{"p":13,"k":"s","v":-295,"f":1.0},{"p":13,"k":"s","v":-285,"f":0.92},{"p":13,"k":"s","v":-275,"f":0.98},{"p":13,"k":"s","v":-265,"f":1.02},{"p":13,"k":"s","v":-255,"f":0.95},{"p":13,"k":"s","v":-245,"f":0.99},{"p":13,"k":"s","v":-235,"f":0.93},{"p":13,"k":"s","v":-225,"f":1.0},{"p":13,"k":"s","v":-215,"f":0.96},{"p":13,"k":"s","v":-205,"f":1.02},{"p":13,"k":"s","v":-195,"f":0.94},{"p":13,"k":"s","v":-185,"f":0.98},{"p":13,"k":"s","v":-175,"f":0.91},{"p":13,"k":"s","v":-165,"f":0.97},{"p":13,"k":"s","v":-155,"f":1.0},{"p":13,"k":"s","v":-145,"f":0.94},{"p":13,"k":"s","v":-135,"f":0.98},{"p":13,"k":"s","v":-125,"f":0.92},{"p":13,"k":"s","v":-115,"f":0.97},{"p":13,"k":"s","v":-105,"f":1.0},{"p":13,"k":"s","v":-95,"f":0.95},{"p":13,"k":"s","v":-85,"f":0.98},{"p":13,"k":"s","v":-75,"f":0.93},{"p":13,"k":"s","v":-65,"f":0.97},{"p":13,"k":"s","v":-55,"f":0.95},{"p":13,"k":"s","v":-45,"f":0.9},{"p":13,"k":"s","v":-35,"f":0.88},{"p":13,"k":"s","v":-25,"f":0.82},{"p":13,"k":"s","v":-15,"f":0.75},{"p":13,"k":"s","v":-5,"f":0.68},{"p":13,"k":"s","v":5,"f":0.7},{"p":13,"k":"s","v":15,"f":0.76},{"p":13,"k":"s","v":25,"f":0.85},{"p":13,"k":"s","v":35,"f":0.92},{"p":13,"k":"s","v":45,"f":0.97},{"p":13,"k":"s","v":55,"f":0.95},{"p":13,"k":"s","v":65,"f":1.0},{"p":13,"k":"s","v":75,"f":0.96},{"p":13,"k":"s","v":85,"f":1.02},{"p":13,"k":"s","v":95,"f":0.95},{"p":13,"k":"s","v":105,"f":0.99},{"p":13,"k":"s","v":115,"f":0.93},{"p":13,"k":"s","v":125,"f":0.98},{"p":13,"k":"s","v":135,"f":1.02},{"p":13,"k":"s","v":145,"f":0.96},{"p":13,"k":"s","v":155,"f":0.99},{"p":13,"k":"s","v":165,"f":0.94},{"p":13,"k":"s","v":175,"f":1.0},{"p":13,"k":"s","v":185,"f":0.97},{"p":13,"k":"s","v":195,"f":1.03},{"p":13,"k":"s","v":205,"f":0.95},{"p":13,"k":"s","v":215,"f":0.99},{"p":13,"k":"s","v":225,"f":0.92},{"p":13,"k":"s","v":235,"f":0.97},{"p":13,"k":"s","v":245,"f":1.01},{"p":13,"k":"s","v":255,"f":0.95},{"p":13,"k":"s","v":265,"f":0.98},{"p":13,"k":"s","v":275,"f":0.93},{"p":13,"k":"s","v":285,"f":1.0},{"p":13,"k":"s","v":295,"f":0.97},{"p":13,"k":"s","v":305,"f":1.02},{"p":13,"k":"s","v":315,"f":0.95},{"p":13,"k":"s","v":325,"f":0.99},{"p":13,"k":"s","v":335,"f":0.94},{"p":13,"k":"s","v":345,"f":0.98},{"p":13,"k":"s","v":355,"f":1.02},{"p":13,"k":"s","v":365,"f":0.95},{"p":13,"k":"s","v":375,"f":0.98},{"p":13,"k":"s","v":385,"f":1.03},{"p":13,"k":"s","v":395,"f":1.0},{"p":13,"k":"s","v":400,"f":1.0},
{"p":13,"k":"m","v":-400,"f":1},{"p":13,"k":"m","v":-60,"f":1},{"p":13,"k":"m","v":-50,"f":0.99},{"p":13,"k":"m","v":-40,"f":0.97},{"p":13,"k":"m","v":-30,"f":0.91},{"p":13,"k":"m","v":-20,"f":0.82},{"p":13,"k":"m","v":-10,"f":0.72},{"p":13,"k":"m","v":0,"f":0.68},{"p":13,"k":"m","v":10,"f":0.72},{"p":13,"k":"m","v":20,"f":0.82},{"p":13,"k":"m","v":30,"f":0.91},{"p":13,"k":"m","v":40,"f":0.97},{"p":13,"k":"m","v":50,"f":0.99},{"p":13,"k":"m","v":60,"f":1},{"p":13,"k":"m","v":400,"f":1},
{"p":13,"k":"c","c":1,"v":-400,"f":1},{"p":13,"k":"c","c":1,"v":-60,"f":1},{"p":13,"k":"c","c":1,"v":-50,"f":0.99},{"p":13,"k":"c","c":1,"v":-40,"f":0.97},{"p":13,"k":"c","c":1,"v":-30,"f":0.91},{"p":13,"k":"c","c":1,"v":-20,"f":0.82},{"p":13,"k":"c","c":1,"v":-10,"f":0.72},{"p":13,"k":"c","c":1,"v":0,"f":0.68},{"p":13,"k":"c","c":1,"v":10,"f":0.72},{"p":13,"k":"c","c":1,"v":20,"f":0.82},{"p":13,"k":"c","c":1,"v":30,"f":0.91},{"p":13,"k":"c","c":1,"v":40,"f":0.97},{"p":13,"k":"c","c":1,"v":50,"f":0.99},{"p":13,"k":"c","c":1,"v":60,"f":1},{"p":13,"k":"c","c":1,"v":400,"f":1},

{"p":14,"k":"s","v":-400,"f":0.8},{"p":14,"k":"s","v":-392,"f":0.32},{"p":14,"k":"s","v":-378,"f":0.35},{"p":14,"k":"s","v":-366,"f":0.3},{"p":14,"k":"s","v":-354,"f":0.33},{"p":14,"k":"s","v":-342,"f":0.9},{"p":14,"k":"s","v":-330,"f":0.95},{"p":14,"k":"s","v":-318,"f":0.72},{"p":14,"k":"s","v":-304,"f":0.7},{"p":14,"k":"s","v":-292,"f":0.28},{"p":14,"k":"s","v":-284,"f":0.08},{"p":14,"k":"s","v":-276,"f":0.35},{"p":14,"k":"s","v":-268,"f":0.85},{"p":14,"k":"s","v":-258,"f":1.0},{"p":14,"k":"s","v":-248,"f":0.96},{"p":14,"k":"s","v":-238,"f":1.02},{"p":14,"k":"s","v":-228,"f":0.97},{"p":14,"k":"s","v":-218,"f":1.0},{"p":14,"k":"s","v":-208,"f":0.94},{"p":14,"k":"s","v":-198,"f":0.99},{"p":14,"k":"s","v":-188,"f":1.03},{"p":14,"k":"s","v":-178,"f":0.96},{"p":14,"k":"s","v":-168,"f":1.0},{"p":14,"k":"s","v":-158,"f":0.93},{"p":14,"k":"s","v":-148,"f":0.98},{"p":14,"k":"s","v":-138,"f":1.02},{"p":14,"k":"s","v":-128,"f":0.95},{"p":14,"k":"s","v":-118,"f":0.99},{"p":14,"k":"s","v":-108,"f":0.94},{"p":14,"k":"s","v":-98,"f":1.0},{"p":14,"k":"s","v":-88,"f":0.96},{"p":14,"k":"s","v":-78,"f":1.02},{"p":14,"k":"s","v":-68,"f":0.97},{"p":14,"k":"s","v":-58,"f":0.93},{"p":14,"k":"s","v":-48,"f":0.95},{"p":14,"k":"s","v":-38,"f":0.85},{"p":14,"k":"s","v":-30,"f":0.78},{"p":14,"k":"s","v":-22,"f":0.8},{"p":14,"k":"s","v":-14,"f":0.92},{"p":14,"k":"s","v":-6,"f":0.97},{"p":14,"k":"s","v":4,"f":1.0},{"p":14,"k":"s","v":12,"f":0.93},{"p":14,"k":"s","v":20,"f":0.97},{"p":14,"k":"s","v":30,"f":1.02},{"p":14,"k":"s","v":40,"f":0.96},{"p":14,"k":"s","v":50,"f":1.0},{"p":14,"k":"s","v":60,"f":0.94},{"p":14,"k":"s","v":70,"f":0.99},{"p":14,"k":"s","v":80,"f":1.03},{"p":14,"k":"s","v":90,"f":0.96},{"p":14,"k":"s","v":100,"f":1.0},{"p":14,"k":"s","v":110,"f":0.95},{"p":14,"k":"s","v":120,"f":0.98},{"p":14,"k":"s","v":130,"f":1.02},{"p":14,"k":"s","v":140,"f":0.96},{"p":14,"k":"s","v":150,"f":0.99},{"p":14,"k":"s","v":160,"f":0.93},{"p":14,"k":"s","v":170,"f":0.98},{"p":14,"k":"s","v":180,"f":1.03},{"p":14,"k":"s","v":190,"f":0.97},{"p":14,"k":"s","v":200,"f":1.0},{"p":14,"k":"s","v":210,"f":0.95},{"p":14,"k":"s","v":220,"f":0.99},{"p":14,"k":"s","v":230,"f":0.94},{"p":14,"k":"s","v":240,"f":0.98},{"p":14,"k":"s","v":250,"f":1.02},{"p":14,"k":"s","v":260,"f":0.96},{"p":14,"k":"s","v":270,"f":1.0},{"p":14,"k":"s","v":280,"f":0.93},{"p":14,"k":"s","v":290,"f":0.97},{"p":14,"k":"s","v":300,"f":1.02},{"p":14,"k":"s","v":310,"f":0.95},{"p":14,"k":"s","v":320,"f":0.99},{"p":14,"k":"s","v":330,"f":0.96},{"p":14,"k":"s","v":340,"f":1.01},{"p":14,"k":"s","v":350,"f":0.95},{"p":14,"k":"s","v":360,"f":0.98},{"p":14,"k":"s","v":370,"f":1.03},{"p":14,"k":"s","v":380,"f":0.97},{"p":14,"k":"s","v":390,"f":1.05},{"p":14,"k":"s","v":398,"f":1.05},
{"p":14,"k":"m","v":-400,"f":1},{"p":14,"k":"m","v":-60,"f":1},{"p":14,"k":"m","v":-50,"f":0.98},{"p":14,"k":"m","v":-42,"f":0.92},{"p":14,"k":"m","v":-35,"f":0.83},{"p":14,"k":"m","v":-28,"f":0.78},{"p":14,"k":"m","v":-21,"f":0.83},{"p":14,"k":"m","v":-14,"f":0.92},{"p":14,"k":"m","v":-6,"f":0.98},{"p":14,"k":"m","v":4,"f":0.98},{"p":14,"k":"m","v":10,"f":0.95},{"p":14,"k":"m","v":14,"f":0.94},{"p":14,"k":"m","v":18,"f":0.95},{"p":14,"k":"m","v":24,"f":0.99},{"p":14,"k":"m","v":32,"f":1},{"p":14,"k":"m","v":400,"f":1},
{"p":14,"k":"c","c":1,"v":-400,"f":1},{"p":14,"k":"c","c":1,"v":-60,"f":1},{"p":14,"k":"c","c":1,"v":-50,"f":0.98},{"p":14,"k":"c","c":1,"v":-42,"f":0.92},{"p":14,"k":"c","c":1,"v":-35,"f":0.83},{"p":14,"k":"c","c":1,"v":-28,"f":0.78},{"p":14,"k":"c","c":1,"v":-21,"f":0.83},{"p":14,"k":"c","c":1,"v":-14,"f":0.92},{"p":14,"k":"c","c":1,"v":-6,"f":0.98},{"p":14,"k":"c","c":1,"v":4,"f":1},{"p":14,"k":"c","c":1,"v":400,"f":1},
{"p":14,"k":"c","c":2,"v":-400,"f":1},{"p":14,"k":"c","c":2,"v":0,"f":1},{"p":14,"k":"c","c":2,"v":6,"f":0.98},{"p":14,"k":"c","c":2,"v":10,"f":0.96},{"p":14,"k":"c","c":2,"v":14,"f":0.94},{"p":14,"k":"c","c":2,"v":18,"f":0.96},{"p":14,"k":"c","c":2,"v":22,"f":0.98},{"p":14,"k":"c","c":2,"v":28,"f":1},{"p":14,"k":"c","c":2,"v":400,"f":1}
]},
"spacing": 27,
"hconcat": [
{"spacing": 2, "bounds": "flush",
 "title": {"text": "Normalized Flux", "orient": "left", "anchor": "middle", "fontSize": 16, "fontWeight": "normal", "font": "DejaVu Sans", "color": "black", "offset": 4},
 "vconcat": [
{"width":315,"height":156,"transform":[{"filter":"datum.p===0"}],"resolve":{"axis":{"x":"independent","y":"independent"}},"layer":[
{"transform":[{"filter":"datum.k==='lab'"}],"mark":{"type":"rule","color":"#b4b4b4","strokeWidth":5},"encoding":{"y":{"datum":-0.5,"axis":null}}},
{"transform":[{"filter":"datum.k==='lab'"}],"mark":{"type":"rule","color":"#b4b4b4","strokeWidth":5},"encoding":{"y":{"datum":-1.5,"axis":null}}},
{"transform":[{"filter":"datum.k==='lab'"}],"mark":{"type":"rule","color":"#808080","strokeWidth":3},"encoding":{"y":{"datum":-0.5,"axis":null}}},
{"transform":[{"filter":"datum.k==='lab'"}],"mark":{"type":"rule","color":"#808080","strokeWidth":3},"encoding":{"y":{"datum":-1.5,"axis":null}}},
{"transform":[{"filter":"datum.k==='lab'"}],"mark":{"type":"rule","color":"black","strokeWidth":1.2,"strokeDash":[5,4]},"encoding":{"y":{"datum":1,"axis":null}}},
{"transform":[{"filter":"datum.k==='lab'"}],"mark":{"type":"rule","color":"black","strokeWidth":1.2,"strokeDash":[5,4]},"encoding":{"y":{"datum":0,"axis":null}}},
{"transform":[{"filter":"datum.k==='e'"}],"mark":{"type":"line","color":"#8c8c8c","strokeWidth":1},"encoding":{"x":{"field":"v","type":"quantitative","axis":null},"y":{"field":"f","type":"quantitative","axis":null}}},
{"transform":[{"filter":"datum.k==='s'"}],"mark":{"type":"line","interpolate":"step-after","color":"#0000ff","strokeWidth":1.5},"encoding":{"x":{"field":"v","type":"quantitative","scale":{"domain":[-436,436],"nice":false,"zero":false},"axis":{"orient":"bottom","values":[-400,-200,0,200,400],"labels":false,"title":null}},"y":{"field":"f","type":"quantitative","scale":{"domain":[-1.65,1.32],"nice":false,"zero":false},"axis":{"orient":"left","values":[-1.5,-0.5,0.5],"format":".1f","title":null}}}},
{"transform":[{"filter":"datum.k==='m'"}],"mark":{"type":"line","interpolate":"monotone","color":"#ff0000","strokeWidth":3,"opacity":0.9},"encoding":{"x":{"field":"v","type":"quantitative","axis":{"orient":"bottom","values":[-300,-100,100,300],"labels":false,"title":null}},"y":{"field":"f","type":"quantitative","axis":{"orient":"left","values":[-1,0,1],"format":".1f","title":null}}}},
{"transform":[{"filter":"datum.k==='c'"}],"mark":{"type":"line","interpolate":"monotone","color":"#00bfbf","strokeWidth":1.5},"encoding":{"x":{"field":"v","type":"quantitative","axis":null},"y":{"field":"f","type":"quantitative","axis":null},"detail":{"field":"c"}}},
{"transform":[{"filter":"datum.k==='vl' && datum.s==='r'"}],"mark":{"type":"rule","color":"#ff0000","strokeWidth":1,"strokeDash":[2,2]},"encoding":{"x":{"field":"v","type":"quantitative","axis":null}}},
{"transform":[{"filter":"datum.k==='lab'"}],"mark":{"type":"rule","color":"black","strokeWidth":1.5,"strokeDash":[5,3]},"encoding":{"x":{"datum":0,"axis":null}}},
{"transform":[{"filter":"datum.k==='lab'"}],"mark":{"type":"text","align":"left","baseline":"middle","fontSize":17,"fontWeight":"bold","color":"#008000"},"encoding":{"x":{"datum":-400,"axis":null},"y":{"datum":-0.33,"axis":null},"text":{"field":"name"}}},
{"transform":[{"filter":"datum.k==='lab'"}],"mark":{"type":"text","align":"left","baseline":"middle","fontSize":17,"color":"black"},"encoding":{"x":{"datum":42,"axis":null},"y":{"datum":-0.33,"axis":null},"text":{"field":"ew"}}}
]},
{"width":315,"height":156,"transform":[{"filter":"datum.p===3"}],"resolve":{"axis":{"x":"independent","y":"independent"}},"layer":[
{"transform":[{"filter":"datum.k==='lab'"}],"mark":{"type":"rule","color":"#b4b4b4","strokeWidth":5},"encoding":{"y":{"datum":-0.5,"axis":null}}},
{"transform":[{"filter":"datum.k==='lab'"}],"mark":{"type":"rule","color":"#b4b4b4","strokeWidth":5},"encoding":{"y":{"datum":-1.5,"axis":null}}},
{"transform":[{"filter":"datum.k==='lab'"}],"mark":{"type":"rule","color":"#808080","strokeWidth":3},"encoding":{"y":{"datum":-0.5,"axis":null}}},
{"transform":[{"filter":"datum.k==='lab'"}],"mark":{"type":"rule","color":"#808080","strokeWidth":3},"encoding":{"y":{"datum":-1.5,"axis":null}}},
{"transform":[{"filter":"datum.k==='lab'"}],"mark":{"type":"rule","color":"black","strokeWidth":1.2,"strokeDash":[5,4]},"encoding":{"y":{"datum":1,"axis":null}}},
{"transform":[{"filter":"datum.k==='lab'"}],"mark":{"type":"rule","color":"black","strokeWidth":1.2,"strokeDash":[5,4]},"encoding":{"y":{"datum":0,"axis":null}}},
{"transform":[{"filter":"datum.k==='e'"}],"mark":{"type":"line","color":"#8c8c8c","strokeWidth":1},"encoding":{"x":{"field":"v","type":"quantitative","axis":null},"y":{"field":"f","type":"quantitative","axis":null}}},
{"transform":[{"filter":"datum.k==='s'"}],"mark":{"type":"line","interpolate":"step-after","color":"#0000ff","strokeWidth":1.5},"encoding":{"x":{"field":"v","type":"quantitative","scale":{"domain":[-436,436],"nice":false,"zero":false},"axis":{"orient":"bottom","values":[-400,-200,0,200,400],"labels":false,"title":null}},"y":{"field":"f","type":"quantitative","scale":{"domain":[-1.65,1.32],"nice":false,"zero":false},"axis":{"orient":"left","values":[-1.5,-0.5,0.5],"format":".1f","title":null}}}},
{"transform":[{"filter":"datum.k==='m'"}],"mark":{"type":"line","interpolate":"monotone","color":"#ff0000","strokeWidth":3,"opacity":0.9},"encoding":{"x":{"field":"v","type":"quantitative","axis":{"orient":"bottom","values":[-300,-100,100,300],"labels":false,"title":null}},"y":{"field":"f","type":"quantitative","axis":{"orient":"left","values":[-1,0,1],"format":".1f","title":null}}}},
{"transform":[{"filter":"datum.k==='c'"}],"mark":{"type":"line","interpolate":"monotone","color":"#00bfbf","strokeWidth":1.5},"encoding":{"x":{"field":"v","type":"quantitative","axis":null},"y":{"field":"f","type":"quantitative","axis":null},"detail":{"field":"c"}}},
{"transform":[{"filter":"datum.k==='vl' && datum.s==='r'"}],"mark":{"type":"rule","color":"#ff0000","strokeWidth":1,"strokeDash":[2,2]},"encoding":{"x":{"field":"v","type":"quantitative","axis":null}}},
{"transform":[{"filter":"datum.k==='lab'"}],"mark":{"type":"rule","color":"black","strokeWidth":1.5,"strokeDash":[5,3]},"encoding":{"x":{"datum":0,"axis":null}}},
{"transform":[{"filter":"datum.k==='lab'"}],"mark":{"type":"text","align":"left","baseline":"middle","fontSize":17,"fontWeight":"bold","color":"#008000"},"encoding":{"x":{"datum":-400,"axis":null},"y":{"datum":-0.33,"axis":null},"text":{"field":"name"}}},
{"transform":[{"filter":"datum.k==='lab'"}],"mark":{"type":"text","align":"left","baseline":"middle","fontSize":17,"color":"black"},"encoding":{"x":{"datum":42,"axis":null},"y":{"datum":-0.33,"axis":null},"text":{"field":"ew"}}}
]},
{"width":315,"height":156,"transform":[{"filter":"datum.p===6"}],"resolve":{"axis":{"x":"independent","y":"independent"}},"layer":[
{"transform":[{"filter":"datum.k==='lab'"}],"mark":{"type":"rule","color":"#b4b4b4","strokeWidth":5},"encoding":{"y":{"datum":-0.5,"axis":null}}},
{"transform":[{"filter":"datum.k==='lab'"}],"mark":{"type":"rule","color":"#b4b4b4","strokeWidth":5},"encoding":{"y":{"datum":-1.5,"axis":null}}},
{"transform":[{"filter":"datum.k==='lab'"}],"mark":{"type":"rule","color":"#808080","strokeWidth":3},"encoding":{"y":{"datum":-0.5,"axis":null}}},
{"transform":[{"filter":"datum.k==='lab'"}],"mark":{"type":"rule","color":"#808080","strokeWidth":3},"encoding":{"y":{"datum":-1.5,"axis":null}}},
{"transform":[{"filter":"datum.k==='lab'"}],"mark":{"type":"rule","color":"black","strokeWidth":1.2,"strokeDash":[5,4]},"encoding":{"y":{"datum":1,"axis":null}}},
{"transform":[{"filter":"datum.k==='lab'"}],"mark":{"type":"rule","color":"black","strokeWidth":1.2,"strokeDash":[5,4]},"encoding":{"y":{"datum":0,"axis":null}}},
{"transform":[{"filter":"datum.k==='s'"}],"mark":{"type":"line","interpolate":"step-after","color":"#0000ff","strokeWidth":1.5},"encoding":{"x":{"field":"v","type":"quantitative","scale":{"domain":[-436,436],"nice":false,"zero":false},"axis":{"orient":"bottom","values":[-400,-200,0,200,400],"labels":false,"title":null}},"y":{"field":"f","type":"quantitative","scale":{"domain":[-1.65,1.32],"nice":false,"zero":false},"axis":{"orient":"left","values":[-1.5,-0.5,0.5],"format":".1f","title":null}}}},
{"transform":[{"filter":"datum.k==='m'"}],"mark":{"type":"line","interpolate":"monotone","color":"#ff0000","strokeWidth":3,"opacity":0.9},"encoding":{"x":{"field":"v","type":"quantitative","axis":{"orient":"bottom","values":[-300,-100,100,300],"labels":false,"title":null}},"y":{"field":"f","type":"quantitative","axis":{"orient":"left","values":[-1,0,1],"format":".1f","title":null}}}},
{"transform":[{"filter":"datum.k==='c'"}],"mark":{"type":"line","interpolate":"monotone","color":"#00bfbf","strokeWidth":1.5},"encoding":{"x":{"field":"v","type":"quantitative","axis":null},"y":{"field":"f","type":"quantitative","axis":null},"detail":{"field":"c"}}},
{"transform":[{"filter":"datum.k==='vl' && datum.s==='r'"}],"mark":{"type":"rule","color":"#ff0000","strokeWidth":1,"strokeDash":[2,2]},"encoding":{"x":{"field":"v","type":"quantitative","axis":null}}},
{"transform":[{"filter":"datum.k==='lab'"}],"mark":{"type":"rule","color":"black","strokeWidth":1.5,"strokeDash":[5,3]},"encoding":{"x":{"datum":0,"axis":null}}},
{"transform":[{"filter":"datum.k==='lab'"}],"mark":{"type":"text","align":"left","baseline":"middle","fontSize":17,"fontWeight":"bold","color":"#008000"},"encoding":{"x":{"datum":-400,"axis":null},"y":{"datum":-0.33,"axis":null},"text":{"field":"name"}}},
{"transform":[{"filter":"datum.k==='lab'"}],"mark":{"type":"text","align":"left","baseline":"middle","fontSize":17,"color":"black"},"encoding":{"x":{"datum":42,"axis":null},"y":{"datum":-0.33,"axis":null},"text":{"field":"ew"}}}
]},
{"width":315,"height":156,"transform":[{"filter":"datum.p===9"}],"resolve":{"axis":{"x":"independent","y":"independent"}},"layer":[
{"transform":[{"filter":"datum.k==='lab'"}],"mark":{"type":"rule","color":"#b4b4b4","strokeWidth":5},"encoding":{"y":{"datum":-0.5,"axis":null}}},
{"transform":[{"filter":"datum.k==='lab'"}],"mark":{"type":"rule","color":"#b4b4b4","strokeWidth":5},"encoding":{"y":{"datum":-1.5,"axis":null}}},
{"transform":[{"filter":"datum.k==='lab'"}],"mark":{"type":"rule","color":"#808080","strokeWidth":3},"encoding":{"y":{"datum":-0.5,"axis":null}}},
{"transform":[{"filter":"datum.k==='lab'"}],"mark":{"type":"rule","color":"#808080","strokeWidth":3},"encoding":{"y":{"datum":-1.5,"axis":null}}},
{"transform":[{"filter":"datum.k==='lab'"}],"mark":{"type":"rule","color":"black","strokeWidth":1.2,"strokeDash":[5,4]},"encoding":{"y":{"datum":1,"axis":null}}},
{"transform":[{"filter":"datum.k==='lab'"}],"mark":{"type":"rule","color":"black","strokeWidth":1.2,"strokeDash":[5,4]},"encoding":{"y":{"datum":0,"axis":null}}},
{"transform":[{"filter":"datum.k==='s'"}],"mark":{"type":"line","interpolate":"step-after","color":"#0000ff","strokeWidth":1.5},"encoding":{"x":{"field":"v","type":"quantitative","scale":{"domain":[-436,436],"nice":false,"zero":false},"axis":{"orient":"bottom","values":[-400,-200,0,200,400],"labels":false,"title":null}},"y":{"field":"f","type":"quantitative","scale":{"domain":[-1.65,1.32],"nice":false,"zero":false},"axis":{"orient":"left","values":[-1.5,-0.5,0.5],"format":".1f","title":null}}}},
{"transform":[{"filter":"datum.k==='m'"}],"mark":{"type":"line","interpolate":"monotone","color":"#ff0000","strokeWidth":3,"opacity":0.9},"encoding":{"x":{"field":"v","type":"quantitative","axis":{"orient":"bottom","values":[-300,-100,100,300],"labels":false,"title":null}},"y":{"field":"f","type":"quantitative","axis":{"orient":"left","values":[-1,0,1],"format":".1f","title":null}}}},
{"transform":[{"filter":"datum.k==='c'"}],"mark":{"type":"line","interpolate":"monotone","color":"#00bfbf","strokeWidth":1.5},"encoding":{"x":{"field":"v","type":"quantitative","axis":null},"y":{"field":"f","type":"quantitative","axis":null},"detail":{"field":"c"}}},
{"transform":[{"filter":"datum.k==='vl' && datum.s==='r'"}],"mark":{"type":"rule","color":"#ff0000","strokeWidth":1,"strokeDash":[2,2]},"encoding":{"x":{"field":"v","type":"quantitative","axis":null}}},
{"transform":[{"filter":"datum.k==='lab'"}],"mark":{"type":"rule","color":"black","strokeWidth":1.5,"strokeDash":[5,3]},"encoding":{"x":{"datum":0,"axis":null}}},
{"transform":[{"filter":"datum.k==='lab'"}],"mark":{"type":"text","align":"left","baseline":"middle","fontSize":17,"fontWeight":"bold","color":"#008000"},"encoding":{"x":{"datum":-400,"axis":null},"y":{"datum":-0.33,"axis":null},"text":{"field":"name"}}},
{"transform":[{"filter":"datum.k==='lab'"}],"mark":{"type":"text","align":"left","baseline":"middle","fontSize":17,"color":"black"},"encoding":{"x":{"datum":42,"axis":null},"y":{"datum":-0.33,"axis":null},"text":{"field":"ew"}}}
]},
{"width":315,"height":156,"transform":[{"filter":"datum.p===12"}],"resolve":{"axis":{"x":"independent","y":"independent"}},"layer":[
{"transform":[{"filter":"datum.k==='lab'"}],"mark":{"type":"rule","color":"#b4b4b4","strokeWidth":5},"encoding":{"y":{"datum":-0.5,"axis":null}}},
{"transform":[{"filter":"datum.k==='lab'"}],"mark":{"type":"rule","color":"#b4b4b4","strokeWidth":5},"encoding":{"y":{"datum":-1.5,"axis":null}}},
{"transform":[{"filter":"datum.k==='lab'"}],"mark":{"type":"rule","color":"#808080","strokeWidth":3},"encoding":{"y":{"datum":-0.5,"axis":null}}},
{"transform":[{"filter":"datum.k==='lab'"}],"mark":{"type":"rule","color":"#808080","strokeWidth":3},"encoding":{"y":{"datum":-1.5,"axis":null}}},
{"transform":[{"filter":"datum.k==='lab'"}],"mark":{"type":"rule","color":"black","strokeWidth":1.2,"strokeDash":[5,4]},"encoding":{"y":{"datum":1,"axis":null}}},
{"transform":[{"filter":"datum.k==='lab'"}],"mark":{"type":"rule","color":"black","strokeWidth":1.2,"strokeDash":[5,4]},"encoding":{"y":{"datum":0,"axis":null}}},
{"transform":[{"filter":"datum.k==='s'"}],"mark":{"type":"line","interpolate":"step-after","color":"#0000ff","strokeWidth":1.5},"encoding":{"x":{"field":"v","type":"quantitative","scale":{"domain":[-436,436],"nice":false,"zero":false},"axis":{"orient":"bottom","values":[-400,-200,0,200,400],"title":"Velocity (km/s)","labelPadding":9,"titlePadding":4}},"y":{"field":"f","type":"quantitative","scale":{"domain":[-1.65,1.32],"nice":false,"zero":false},"axis":{"orient":"left","values":[-1.5,-0.5,0.5],"format":".1f","title":null}}}},
{"transform":[{"filter":"datum.k==='m'"}],"mark":{"type":"line","interpolate":"monotone","color":"#ff0000","strokeWidth":3,"opacity":0.9},"encoding":{"x":{"field":"v","type":"quantitative","axis":{"orient":"bottom","values":[-300,-100,100,300],"title":null,"labelPadding":9}},"y":{"field":"f","type":"quantitative","axis":{"orient":"left","values":[-1,0,1],"format":".1f","title":null}}}},
{"transform":[{"filter":"datum.k==='c'"}],"mark":{"type":"line","interpolate":"monotone","color":"#00bfbf","strokeWidth":1.5},"encoding":{"x":{"field":"v","type":"quantitative","axis":null},"y":{"field":"f","type":"quantitative","axis":null},"detail":{"field":"c"}}},
{"transform":[{"filter":"datum.k==='vl' && datum.s==='r'"}],"mark":{"type":"rule","color":"#ff0000","strokeWidth":1,"strokeDash":[2,2]},"encoding":{"x":{"field":"v","type":"quantitative","axis":null}}},
{"transform":[{"filter":"datum.k==='vl' && datum.s==='b'"}],"mark":{"type":"rule","color":"black","strokeWidth":1,"strokeDash":[2,2]},"encoding":{"x":{"field":"v","type":"quantitative","axis":null}}},
{"transform":[{"filter":"datum.k==='lab'"}],"mark":{"type":"rule","color":"black","strokeWidth":1.5,"strokeDash":[5,3]},"encoding":{"x":{"datum":0,"axis":null}}},
{"transform":[{"filter":"datum.k==='lab'"}],"mark":{"type":"text","align":"left","baseline":"middle","fontSize":17,"fontWeight":"bold","color":"#008000"},"encoding":{"x":{"datum":-400,"axis":null},"y":{"datum":-0.33,"axis":null},"text":{"field":"name"}}},
{"transform":[{"filter":"datum.k==='lab'"}],"mark":{"type":"text","align":"left","baseline":"middle","fontSize":17,"color":"black"},"encoding":{"x":{"datum":42,"axis":null},"y":{"datum":-0.33,"axis":null},"text":{"field":"ew"}}}
]}
]},
{"spacing": 2, "bounds": "flush",
 "vconcat": [
{"width":315,"height":156,"transform":[{"filter":"datum.p===1"}],"resolve":{"axis":{"x":"independent","y":"independent"}},"layer":[
{"transform":[{"filter":"datum.k==='lab'"}],"mark":{"type":"rule","color":"#b4b4b4","strokeWidth":5},"encoding":{"y":{"datum":-0.5,"axis":null}}},
{"transform":[{"filter":"datum.k==='lab'"}],"mark":{"type":"rule","color":"#b4b4b4","strokeWidth":5},"encoding":{"y":{"datum":-1.5,"axis":null}}},
{"transform":[{"filter":"datum.k==='lab'"}],"mark":{"type":"rule","color":"#808080","strokeWidth":3},"encoding":{"y":{"datum":-0.5,"axis":null}}},
{"transform":[{"filter":"datum.k==='lab'"}],"mark":{"type":"rule","color":"#808080","strokeWidth":3},"encoding":{"y":{"datum":-1.5,"axis":null}}},
{"transform":[{"filter":"datum.k==='lab'"}],"mark":{"type":"rule","color":"black","strokeWidth":1.2,"strokeDash":[5,4]},"encoding":{"y":{"datum":1,"axis":null}}},
{"transform":[{"filter":"datum.k==='lab'"}],"mark":{"type":"rule","color":"black","strokeWidth":1.2,"strokeDash":[5,4]},"encoding":{"y":{"datum":0,"axis":null}}},
{"transform":[{"filter":"datum.k==='s'"}],"mark":{"type":"line","interpolate":"step-after","color":"#0000ff","strokeWidth":1.5},"encoding":{"x":{"field":"v","type":"quantitative","scale":{"domain":[-436,436],"nice":false,"zero":false},"axis":{"orient":"bottom","values":[-400,-200,0,200,400],"labels":false,"title":null}},"y":{"field":"f","type":"quantitative","scale":{"domain":[-1.65,1.32],"nice":false,"zero":false},"axis":{"orient":"left","values":[-1.5,-0.5,0.5],"format":".1f","title":null}}}},
{"transform":[{"filter":"datum.k==='m'"}],"mark":{"type":"line","interpolate":"monotone","color":"#ff0000","strokeWidth":3,"opacity":0.9},"encoding":{"x":{"field":"v","type":"quantitative","axis":{"orient":"bottom","values":[-300,-100,100,300],"labels":false,"title":null}},"y":{"field":"f","type":"quantitative","axis":{"orient":"left","values":[-1,0,1],"format":".1f","title":null}}}},
{"transform":[{"filter":"datum.k==='c'"}],"mark":{"type":"line","interpolate":"monotone","color":"#00bfbf","strokeWidth":1.5},"encoding":{"x":{"field":"v","type":"quantitative","axis":null},"y":{"field":"f","type":"quantitative","axis":null},"detail":{"field":"c"}}},
{"transform":[{"filter":"datum.k==='vl' && datum.s==='r'"}],"mark":{"type":"rule","color":"#ff0000","strokeWidth":1,"strokeDash":[2,2]},"encoding":{"x":{"field":"v","type":"quantitative","axis":null}}},
{"transform":[{"filter":"datum.k==='lab'"}],"mark":{"type":"rule","color":"black","strokeWidth":1.5,"strokeDash":[5,3]},"encoding":{"x":{"datum":0,"axis":null}}},
{"transform":[{"filter":"datum.k==='lab'"}],"mark":{"type":"text","align":"left","baseline":"middle","fontSize":17,"fontWeight":"bold","color":"#008000"},"encoding":{"x":{"datum":-400,"axis":null},"y":{"datum":-0.33,"axis":null},"text":{"field":"name"}}},
{"transform":[{"filter":"datum.k==='lab'"}],"mark":{"type":"text","align":"left","baseline":"middle","fontSize":17,"color":"black"},"encoding":{"x":{"datum":42,"axis":null},"y":{"datum":-0.33,"axis":null},"text":{"field":"ew"}}}
]},
{"width":315,"height":156,"transform":[{"filter":"datum.p===4"}],"resolve":{"axis":{"x":"independent","y":"independent"}},"layer":[
{"transform":[{"filter":"datum.k==='lab'"}],"mark":{"type":"rule","color":"#b4b4b4","strokeWidth":5},"encoding":{"y":{"datum":-0.5,"axis":null}}},
{"transform":[{"filter":"datum.k==='lab'"}],"mark":{"type":"rule","color":"#b4b4b4","strokeWidth":5},"encoding":{"y":{"datum":-1.5,"axis":null}}},
{"transform":[{"filter":"datum.k==='lab'"}],"mark":{"type":"rule","color":"#808080","strokeWidth":3},"encoding":{"y":{"datum":-0.5,"axis":null}}},
{"transform":[{"filter":"datum.k==='lab'"}],"mark":{"type":"rule","color":"#808080","strokeWidth":3},"encoding":{"y":{"datum":-1.5,"axis":null}}},
{"transform":[{"filter":"datum.k==='lab'"}],"mark":{"type":"rule","color":"black","strokeWidth":1.2,"strokeDash":[5,4]},"encoding":{"y":{"datum":1,"axis":null}}},
{"transform":[{"filter":"datum.k==='lab'"}],"mark":{"type":"rule","color":"black","strokeWidth":1.2,"strokeDash":[5,4]},"encoding":{"y":{"datum":0,"axis":null}}},
{"transform":[{"filter":"datum.k==='s'"}],"mark":{"type":"line","interpolate":"step-after","color":"#0000ff","strokeWidth":1.5},"encoding":{"x":{"field":"v","type":"quantitative","scale":{"domain":[-436,436],"nice":false,"zero":false},"axis":{"orient":"bottom","values":[-400,-200,0,200,400],"labels":false,"title":null}},"y":{"field":"f","type":"quantitative","scale":{"domain":[-1.65,1.32],"nice":false,"zero":false},"axis":{"orient":"left","values":[-1.5,-0.5,0.5],"format":".1f","title":null}}}},
{"transform":[{"filter":"datum.k==='m'"}],"mark":{"type":"line","interpolate":"monotone","color":"#ff0000","strokeWidth":3,"opacity":0.9},"encoding":{"x":{"field":"v","type":"quantitative","axis":{"orient":"bottom","values":[-300,-100,100,300],"labels":false,"title":null}},"y":{"field":"f","type":"quantitative","axis":{"orient":"left","values":[-1,0,1],"format":".1f","title":null}}}},
{"transform":[{"filter":"datum.k==='c'"}],"mark":{"type":"line","interpolate":"monotone","color":"#00bfbf","strokeWidth":1.5},"encoding":{"x":{"field":"v","type":"quantitative","axis":null},"y":{"field":"f","type":"quantitative","axis":null},"detail":{"field":"c"}}},
{"transform":[{"filter":"datum.k==='vl' && datum.s==='r'"}],"mark":{"type":"rule","color":"#ff0000","strokeWidth":1,"strokeDash":[2,2]},"encoding":{"x":{"field":"v","type":"quantitative","axis":null}}},
{"transform":[{"filter":"datum.k==='lab'"}],"mark":{"type":"rule","color":"black","strokeWidth":1.5,"strokeDash":[5,3]},"encoding":{"x":{"datum":0,"axis":null}}},
{"transform":[{"filter":"datum.k==='lab'"}],"mark":{"type":"text","align":"left","baseline":"middle","fontSize":17,"fontWeight":"bold","color":"#008000"},"encoding":{"x":{"datum":-400,"axis":null},"y":{"datum":-0.33,"axis":null},"text":{"field":"name"}}},
{"transform":[{"filter":"datum.k==='lab'"}],"mark":{"type":"text","align":"left","baseline":"middle","fontSize":17,"color":"black"},"encoding":{"x":{"datum":42,"axis":null},"y":{"datum":-0.33,"axis":null},"text":{"field":"ew"}}}
]},
{"width":315,"height":156,"transform":[{"filter":"datum.p===7"}],"resolve":{"axis":{"x":"independent","y":"independent"}},"layer":[
{"transform":[{"filter":"datum.k==='lab'"}],"mark":{"type":"rule","color":"#b4b4b4","strokeWidth":5},"encoding":{"y":{"datum":-0.5,"axis":null}}},
{"transform":[{"filter":"datum.k==='lab'"}],"mark":{"type":"rule","color":"#b4b4b4","strokeWidth":5},"encoding":{"y":{"datum":-1.5,"axis":null}}},
{"transform":[{"filter":"datum.k==='lab'"}],"mark":{"type":"rule","color":"#808080","strokeWidth":3},"encoding":{"y":{"datum":-0.5,"axis":null}}},
{"transform":[{"filter":"datum.k==='lab'"}],"mark":{"type":"rule","color":"#808080","strokeWidth":3},"encoding":{"y":{"datum":-1.5,"axis":null}}},
{"transform":[{"filter":"datum.k==='lab'"}],"mark":{"type":"rule","color":"black","strokeWidth":1.2,"strokeDash":[5,4]},"encoding":{"y":{"datum":1,"axis":null}}},
{"transform":[{"filter":"datum.k==='lab'"}],"mark":{"type":"rule","color":"black","strokeWidth":1.2,"strokeDash":[5,4]},"encoding":{"y":{"datum":0,"axis":null}}},
{"transform":[{"filter":"datum.k==='s'"}],"mark":{"type":"line","interpolate":"step-after","color":"#0000ff","strokeWidth":1.5},"encoding":{"x":{"field":"v","type":"quantitative","scale":{"domain":[-436,436],"nice":false,"zero":false},"axis":{"orient":"bottom","values":[-400,-200,0,200,400],"labels":false,"title":null}},"y":{"field":"f","type":"quantitative","scale":{"domain":[-1.65,1.32],"nice":false,"zero":false},"axis":{"orient":"left","values":[-1.5,-0.5,0.5],"format":".1f","title":null}}}},
{"transform":[{"filter":"datum.k==='m'"}],"mark":{"type":"line","interpolate":"monotone","color":"#ff0000","strokeWidth":3,"opacity":0.9},"encoding":{"x":{"field":"v","type":"quantitative","axis":{"orient":"bottom","values":[-300,-100,100,300],"labels":false,"title":null}},"y":{"field":"f","type":"quantitative","axis":{"orient":"left","values":[-1,0,1],"format":".1f","title":null}}}},
{"transform":[{"filter":"datum.k==='c'"}],"mark":{"type":"line","interpolate":"monotone","color":"#00bfbf","strokeWidth":1.5},"encoding":{"x":{"field":"v","type":"quantitative","axis":null},"y":{"field":"f","type":"quantitative","axis":null},"detail":{"field":"c"}}},
{"transform":[{"filter":"datum.k==='vl' && datum.s==='r'"}],"mark":{"type":"rule","color":"#ff0000","strokeWidth":1,"strokeDash":[2,2]},"encoding":{"x":{"field":"v","type":"quantitative","axis":null}}},
{"transform":[{"filter":"datum.k==='lab'"}],"mark":{"type":"rule","color":"black","strokeWidth":1.5,"strokeDash":[5,3]},"encoding":{"x":{"datum":0,"axis":null}}},
{"transform":[{"filter":"datum.k==='lab'"}],"mark":{"type":"text","align":"left","baseline":"middle","fontSize":17,"fontWeight":"bold","color":"#008000"},"encoding":{"x":{"datum":-400,"axis":null},"y":{"datum":-0.33,"axis":null},"text":{"field":"name"}}},
{"transform":[{"filter":"datum.k==='lab'"}],"mark":{"type":"text","align":"left","baseline":"middle","fontSize":17,"color":"black"},"encoding":{"x":{"datum":42,"axis":null},"y":{"datum":-0.33,"axis":null},"text":{"field":"ew"}}}
]},
{"width":315,"height":156,"transform":[{"filter":"datum.p===10"}],"resolve":{"axis":{"x":"independent","y":"independent"}},"layer":[
{"transform":[{"filter":"datum.k==='lab'"}],"mark":{"type":"rule","color":"#b4b4b4","strokeWidth":5},"encoding":{"y":{"datum":-0.5,"axis":null}}},
{"transform":[{"filter":"datum.k==='lab'"}],"mark":{"type":"rule","color":"#b4b4b4","strokeWidth":5},"encoding":{"y":{"datum":-1.5,"axis":null}}},
{"transform":[{"filter":"datum.k==='lab'"}],"mark":{"type":"rule","color":"#808080","strokeWidth":3},"encoding":{"y":{"datum":-0.5,"axis":null}}},
{"transform":[{"filter":"datum.k==='lab'"}],"mark":{"type":"rule","color":"#808080","strokeWidth":3},"encoding":{"y":{"datum":-1.5,"axis":null}}},
{"transform":[{"filter":"datum.k==='lab'"}],"mark":{"type":"rule","color":"black","strokeWidth":1.2,"strokeDash":[5,4]},"encoding":{"y":{"datum":1,"axis":null}}},
{"transform":[{"filter":"datum.k==='lab'"}],"mark":{"type":"rule","color":"black","strokeWidth":1.2,"strokeDash":[5,4]},"encoding":{"y":{"datum":0,"axis":null}}},
{"transform":[{"filter":"datum.k==='s'"}],"mark":{"type":"line","interpolate":"step-after","color":"#0000ff","strokeWidth":1.5},"encoding":{"x":{"field":"v","type":"quantitative","scale":{"domain":[-436,436],"nice":false,"zero":false},"axis":{"orient":"bottom","values":[-400,-200,0,200,400],"labels":false,"title":null}},"y":{"field":"f","type":"quantitative","scale":{"domain":[-1.65,1.32],"nice":false,"zero":false},"axis":{"orient":"left","values":[-1.5,-0.5,0.5],"format":".1f","title":null}}}},
{"transform":[{"filter":"datum.k==='m'"}],"mark":{"type":"line","interpolate":"monotone","color":"#ff0000","strokeWidth":3,"opacity":0.9},"encoding":{"x":{"field":"v","type":"quantitative","axis":{"orient":"bottom","values":[-300,-100,100,300],"labels":false,"title":null}},"y":{"field":"f","type":"quantitative","axis":{"orient":"left","values":[-1,0,1],"format":".1f","title":null}}}},
{"transform":[{"filter":"datum.k==='c'"}],"mark":{"type":"line","interpolate":"monotone","color":"#00bfbf","strokeWidth":1.5},"encoding":{"x":{"field":"v","type":"quantitative","axis":null},"y":{"field":"f","type":"quantitative","axis":null},"detail":{"field":"c"}}},
{"transform":[{"filter":"datum.k==='vl' && datum.s==='r'"}],"mark":{"type":"rule","color":"#ff0000","strokeWidth":1,"strokeDash":[2,2]},"encoding":{"x":{"field":"v","type":"quantitative","axis":null}}},
{"transform":[{"filter":"datum.k==='lab'"}],"mark":{"type":"rule","color":"black","strokeWidth":1.5,"strokeDash":[5,3]},"encoding":{"x":{"datum":0,"axis":null}}},
{"transform":[{"filter":"datum.k==='lab'"}],"mark":{"type":"text","align":"left","baseline":"middle","fontSize":17,"fontWeight":"bold","color":"#008000"},"encoding":{"x":{"datum":-400,"axis":null},"y":{"datum":-0.33,"axis":null},"text":{"field":"name"}}},
{"transform":[{"filter":"datum.k==='lab'"}],"mark":{"type":"text","align":"left","baseline":"middle","fontSize":17,"color":"black"},"encoding":{"x":{"datum":42,"axis":null},"y":{"datum":-0.33,"axis":null},"text":{"field":"ew"}}}
]},
{"width":315,"height":156,"transform":[{"filter":"datum.p===13"}],"resolve":{"axis":{"x":"independent","y":"independent"}},"layer":[
{"transform":[{"filter":"datum.k==='lab'"}],"mark":{"type":"rule","color":"#b4b4b4","strokeWidth":5},"encoding":{"y":{"datum":-0.5,"axis":null}}},
{"transform":[{"filter":"datum.k==='lab'"}],"mark":{"type":"rule","color":"#b4b4b4","strokeWidth":5},"encoding":{"y":{"datum":-1.5,"axis":null}}},
{"transform":[{"filter":"datum.k==='lab'"}],"mark":{"type":"rule","color":"#808080","strokeWidth":3},"encoding":{"y":{"datum":-0.5,"axis":null}}},
{"transform":[{"filter":"datum.k==='lab'"}],"mark":{"type":"rule","color":"#808080","strokeWidth":3},"encoding":{"y":{"datum":-1.5,"axis":null}}},
{"transform":[{"filter":"datum.k==='lab'"}],"mark":{"type":"rule","color":"black","strokeWidth":1.2,"strokeDash":[5,4]},"encoding":{"y":{"datum":1,"axis":null}}},
{"transform":[{"filter":"datum.k==='lab'"}],"mark":{"type":"rule","color":"black","strokeWidth":1.2,"strokeDash":[5,4]},"encoding":{"y":{"datum":0,"axis":null}}},
{"transform":[{"filter":"datum.k==='s'"}],"mark":{"type":"line","interpolate":"step-after","color":"#0000ff","strokeWidth":1.5},"encoding":{"x":{"field":"v","type":"quantitative","scale":{"domain":[-436,436],"nice":false,"zero":false},"axis":{"orient":"bottom","values":[-400,-200,0,200,400],"title":"Velocity (km/s)","labelPadding":9,"titlePadding":4}},"y":{"field":"f","type":"quantitative","scale":{"domain":[-1.65,1.32],"nice":false,"zero":false},"axis":{"orient":"left","values":[-1.5,-0.5,0.5],"format":".1f","title":null}}}},
{"transform":[{"filter":"datum.k==='m'"}],"mark":{"type":"line","interpolate":"monotone","color":"#ff0000","strokeWidth":3,"opacity":0.9},"encoding":{"x":{"field":"v","type":"quantitative","axis":{"orient":"bottom","values":[-300,-100,100,300],"title":null,"labelPadding":9}},"y":{"field":"f","type":"quantitative","axis":{"orient":"left","values":[-1,0,1],"format":".1f","title":null}}}},
{"transform":[{"filter":"datum.k==='c'"}],"mark":{"type":"line","interpolate":"monotone","color":"#00bfbf","strokeWidth":1.5},"encoding":{"x":{"field":"v","type":"quantitative","axis":null},"y":{"field":"f","type":"quantitative","axis":null},"detail":{"field":"c"}}},
{"transform":[{"filter":"datum.k==='vl' && datum.s==='r'"}],"mark":{"type":"rule","color":"#ff0000","strokeWidth":1,"strokeDash":[2,2]},"encoding":{"x":{"field":"v","type":"quantitative","axis":null}}},
{"transform":[{"filter":"datum.k==='lab'"}],"mark":{"type":"rule","color":"black","strokeWidth":1.5,"strokeDash":[5,3]},"encoding":{"x":{"datum":0,"axis":null}}},
{"transform":[{"filter":"datum.k==='lab'"}],"mark":{"type":"text","align":"left","baseline":"middle","fontSize":17,"fontWeight":"bold","color":"#008000"},"encoding":{"x":{"datum":-400,"axis":null},"y":{"datum":-0.33,"axis":null},"text":{"field":"name"}}},
{"transform":[{"filter":"datum.k==='lab'"}],"mark":{"type":"text","align":"left","baseline":"middle","fontSize":17,"color":"black"},"encoding":{"x":{"datum":42,"axis":null},"y":{"datum":-0.33,"axis":null},"text":{"field":"ew"}}}
]}
]},
{"spacing": 2, "bounds": "flush",
 "vconcat": [
{"width":315,"height":156,"transform":[{"filter":"datum.p===2"}],"resolve":{"axis":{"x":"independent","y":"independent"}},"layer":[
{"transform":[{"filter":"datum.k==='lab'"}],"mark":{"type":"rule","color":"#b4b4b4","strokeWidth":5},"encoding":{"y":{"datum":-0.5,"axis":null}}},
{"transform":[{"filter":"datum.k==='lab'"}],"mark":{"type":"rule","color":"#b4b4b4","strokeWidth":5},"encoding":{"y":{"datum":-1.5,"axis":null}}},
{"transform":[{"filter":"datum.k==='lab'"}],"mark":{"type":"rule","color":"#808080","strokeWidth":3},"encoding":{"y":{"datum":-0.5,"axis":null}}},
{"transform":[{"filter":"datum.k==='lab'"}],"mark":{"type":"rule","color":"#808080","strokeWidth":3},"encoding":{"y":{"datum":-1.5,"axis":null}}},
{"transform":[{"filter":"datum.k==='lab'"}],"mark":{"type":"rule","color":"black","strokeWidth":1.2,"strokeDash":[5,4]},"encoding":{"y":{"datum":1,"axis":null}}},
{"transform":[{"filter":"datum.k==='lab'"}],"mark":{"type":"rule","color":"black","strokeWidth":1.2,"strokeDash":[5,4]},"encoding":{"y":{"datum":0,"axis":null}}},
{"transform":[{"filter":"datum.k==='s'"}],"mark":{"type":"line","interpolate":"step-after","color":"#0000ff","strokeWidth":1.5},"encoding":{"x":{"field":"v","type":"quantitative","scale":{"domain":[-436,436],"nice":false,"zero":false},"axis":{"orient":"bottom","values":[-400,-200,0,200,400],"labels":false,"title":null}},"y":{"field":"f","type":"quantitative","scale":{"domain":[-1.65,1.32],"nice":false,"zero":false},"axis":{"orient":"left","values":[-1.5,-0.5,0.5],"format":".1f","title":null}}}},
{"transform":[{"filter":"datum.k==='m'"}],"mark":{"type":"line","interpolate":"monotone","color":"#ff0000","strokeWidth":3,"opacity":0.9},"encoding":{"x":{"field":"v","type":"quantitative","axis":{"orient":"bottom","values":[-300,-100,100,300],"labels":false,"title":null}},"y":{"field":"f","type":"quantitative","axis":{"orient":"left","values":[-1,0,1],"format":".1f","title":null}}}},
{"transform":[{"filter":"datum.k==='c'"}],"mark":{"type":"line","interpolate":"monotone","color":"#00bfbf","strokeWidth":1.5},"encoding":{"x":{"field":"v","type":"quantitative","axis":null},"y":{"field":"f","type":"quantitative","axis":null},"detail":{"field":"c"}}},
{"transform":[{"filter":"datum.k==='vl' && datum.s==='r'"}],"mark":{"type":"rule","color":"#ff0000","strokeWidth":1,"strokeDash":[2,2]},"encoding":{"x":{"field":"v","type":"quantitative","axis":null}}},
{"transform":[{"filter":"datum.k==='lab'"}],"mark":{"type":"rule","color":"black","strokeWidth":1.5,"strokeDash":[5,3]},"encoding":{"x":{"datum":0,"axis":null}}},
{"transform":[{"filter":"datum.k==='lab'"}],"mark":{"type":"text","align":"left","baseline":"middle","fontSize":17,"fontWeight":"bold","color":"#008000"},"encoding":{"x":{"datum":-400,"axis":null},"y":{"datum":-0.33,"axis":null},"text":{"field":"name"}}},
{"transform":[{"filter":"datum.k==='lab'"}],"mark":{"type":"text","align":"left","baseline":"middle","fontSize":17,"color":"black"},"encoding":{"x":{"datum":42,"axis":null},"y":{"datum":-0.33,"axis":null},"text":{"field":"ew"}}}
]},
{"width":315,"height":156,"transform":[{"filter":"datum.p===5"}],"resolve":{"axis":{"x":"independent","y":"independent"}},"layer":[
{"transform":[{"filter":"datum.k==='lab'"}],"mark":{"type":"rule","color":"#b4b4b4","strokeWidth":5},"encoding":{"y":{"datum":-0.5,"axis":null}}},
{"transform":[{"filter":"datum.k==='lab'"}],"mark":{"type":"rule","color":"#b4b4b4","strokeWidth":5},"encoding":{"y":{"datum":-1.5,"axis":null}}},
{"transform":[{"filter":"datum.k==='lab'"}],"mark":{"type":"rule","color":"#808080","strokeWidth":3},"encoding":{"y":{"datum":-0.5,"axis":null}}},
{"transform":[{"filter":"datum.k==='lab'"}],"mark":{"type":"rule","color":"#808080","strokeWidth":3},"encoding":{"y":{"datum":-1.5,"axis":null}}},
{"transform":[{"filter":"datum.k==='lab'"}],"mark":{"type":"rule","color":"black","strokeWidth":1.2,"strokeDash":[5,4]},"encoding":{"y":{"datum":1,"axis":null}}},
{"transform":[{"filter":"datum.k==='lab'"}],"mark":{"type":"rule","color":"black","strokeWidth":1.2,"strokeDash":[5,4]},"encoding":{"y":{"datum":0,"axis":null}}},
{"transform":[{"filter":"datum.k==='s'"}],"mark":{"type":"line","interpolate":"step-after","color":"#0000ff","strokeWidth":1.5},"encoding":{"x":{"field":"v","type":"quantitative","scale":{"domain":[-436,436],"nice":false,"zero":false},"axis":{"orient":"bottom","values":[-400,-200,0,200,400],"labels":false,"title":null}},"y":{"field":"f","type":"quantitative","scale":{"domain":[-1.65,1.32],"nice":false,"zero":false},"axis":{"orient":"left","values":[-1.5,-0.5,0.5],"format":".1f","title":null}}}},
{"transform":[{"filter":"datum.k==='m'"}],"mark":{"type":"line","interpolate":"monotone","color":"#ff0000","strokeWidth":3,"opacity":0.9},"encoding":{"x":{"field":"v","type":"quantitative","axis":{"orient":"bottom","values":[-300,-100,100,300],"labels":false,"title":null}},"y":{"field":"f","type":"quantitative","axis":{"orient":"left","values":[-1,0,1],"format":".1f","title":null}}}},
{"transform":[{"filter":"datum.k==='c'"}],"mark":{"type":"line","interpolate":"monotone","color":"#00bfbf","strokeWidth":1.5},"encoding":{"x":{"field":"v","type":"quantitative","axis":null},"y":{"field":"f","type":"quantitative","axis":null},"detail":{"field":"c"}}},
{"transform":[{"filter":"datum.k==='vl' && datum.s==='r'"}],"mark":{"type":"rule","color":"#ff0000","strokeWidth":1,"strokeDash":[2,2]},"encoding":{"x":{"field":"v","type":"quantitative","axis":null}}},
{"transform":[{"filter":"datum.k==='lab'"}],"mark":{"type":"rule","color":"black","strokeWidth":1.5,"strokeDash":[5,3]},"encoding":{"x":{"datum":0,"axis":null}}},
{"transform":[{"filter":"datum.k==='lab'"}],"mark":{"type":"text","align":"left","baseline":"middle","fontSize":17,"fontWeight":"bold","color":"#008000"},"encoding":{"x":{"datum":-400,"axis":null},"y":{"datum":-0.33,"axis":null},"text":{"field":"name"}}},
{"transform":[{"filter":"datum.k==='lab'"}],"mark":{"type":"text","align":"left","baseline":"middle","fontSize":17,"color":"black"},"encoding":{"x":{"datum":42,"axis":null},"y":{"datum":-0.33,"axis":null},"text":{"field":"ew"}}}
]},
{"width":315,"height":156,"transform":[{"filter":"datum.p===8"}],"resolve":{"axis":{"x":"independent","y":"independent"}},"layer":[
{"transform":[{"filter":"datum.k==='lab'"}],"mark":{"type":"rule","color":"#b4b4b4","strokeWidth":5},"encoding":{"y":{"datum":-0.5,"axis":null}}},
{"transform":[{"filter":"datum.k==='lab'"}],"mark":{"type":"rule","color":"#b4b4b4","strokeWidth":5},"encoding":{"y":{"datum":-1.5,"axis":null}}},
{"transform":[{"filter":"datum.k==='lab'"}],"mark":{"type":"rule","color":"#808080","strokeWidth":3},"encoding":{"y":{"datum":-0.5,"axis":null}}},
{"transform":[{"filter":"datum.k==='lab'"}],"mark":{"type":"rule","color":"#808080","strokeWidth":3},"encoding":{"y":{"datum":-1.5,"axis":null}}},
{"transform":[{"filter":"datum.k==='lab'"}],"mark":{"type":"rule","color":"black","strokeWidth":1.2,"strokeDash":[5,4]},"encoding":{"y":{"datum":1,"axis":null}}},
{"transform":[{"filter":"datum.k==='lab'"}],"mark":{"type":"rule","color":"black","strokeWidth":1.2,"strokeDash":[5,4]},"encoding":{"y":{"datum":0,"axis":null}}},
{"transform":[{"filter":"datum.k==='s'"}],"mark":{"type":"line","interpolate":"step-after","color":"#0000ff","strokeWidth":1.5},"encoding":{"x":{"field":"v","type":"quantitative","scale":{"domain":[-436,436],"nice":false,"zero":false},"axis":{"orient":"bottom","values":[-400,-200,0,200,400],"labels":false,"title":null}},"y":{"field":"f","type":"quantitative","scale":{"domain":[-1.65,1.32],"nice":false,"zero":false},"axis":{"orient":"left","values":[-1.5,-0.5,0.5],"format":".1f","title":null}}}},
{"transform":[{"filter":"datum.k==='m'"}],"mark":{"type":"line","interpolate":"monotone","color":"#ff0000","strokeWidth":3,"opacity":0.9},"encoding":{"x":{"field":"v","type":"quantitative","axis":{"orient":"bottom","values":[-300,-100,100,300],"labels":false,"title":null}},"y":{"field":"f","type":"quantitative","axis":{"orient":"left","values":[-1,0,1],"format":".1f","title":null}}}},
{"transform":[{"filter":"datum.k==='c'"}],"mark":{"type":"line","interpolate":"monotone","color":"#00bfbf","strokeWidth":1.5},"encoding":{"x":{"field":"v","type":"quantitative","axis":null},"y":{"field":"f","type":"quantitative","axis":null},"detail":{"field":"c"}}},
{"transform":[{"filter":"datum.k==='vl' && datum.s==='r'"}],"mark":{"type":"rule","color":"#ff0000","strokeWidth":1,"strokeDash":[2,2]},"encoding":{"x":{"field":"v","type":"quantitative","axis":null}}},
{"transform":[{"filter":"datum.k==='vl' && datum.s==='b'"}],"mark":{"type":"rule","color":"black","strokeWidth":1,"strokeDash":[2,2]},"encoding":{"x":{"field":"v","type":"quantitative","axis":null}}},
{"transform":[{"filter":"datum.k==='lab'"}],"mark":{"type":"rule","color":"black","strokeWidth":1.5,"strokeDash":[5,3]},"encoding":{"x":{"datum":0,"axis":null}}},
{"transform":[{"filter":"datum.k==='lab'"}],"mark":{"type":"text","align":"left","baseline":"middle","fontSize":17,"fontWeight":"bold","color":"#008000"},"encoding":{"x":{"datum":-400,"axis":null},"y":{"datum":-0.33,"axis":null},"text":{"field":"name"}}},
{"transform":[{"filter":"datum.k==='lab'"}],"mark":{"type":"text","align":"left","baseline":"middle","fontSize":17,"color":"black"},"encoding":{"x":{"datum":42,"axis":null},"y":{"datum":-0.33,"axis":null},"text":{"field":"ew"}}}
]},
{"width":315,"height":156,"transform":[{"filter":"datum.p===11"}],"resolve":{"axis":{"x":"independent","y":"independent"}},"layer":[
{"transform":[{"filter":"datum.k==='lab'"}],"mark":{"type":"rule","color":"#b4b4b4","strokeWidth":5},"encoding":{"y":{"datum":-0.5,"axis":null}}},
{"transform":[{"filter":"datum.k==='lab'"}],"mark":{"type":"rule","color":"#b4b4b4","strokeWidth":5},"encoding":{"y":{"datum":-1.5,"axis":null}}},
{"transform":[{"filter":"datum.k==='lab'"}],"mark":{"type":"rule","color":"#808080","strokeWidth":3},"encoding":{"y":{"datum":-0.5,"axis":null}}},
{"transform":[{"filter":"datum.k==='lab'"}],"mark":{"type":"rule","color":"#808080","strokeWidth":3},"encoding":{"y":{"datum":-1.5,"axis":null}}},
{"transform":[{"filter":"datum.k==='lab'"}],"mark":{"type":"rule","color":"black","strokeWidth":1.2,"strokeDash":[5,4]},"encoding":{"y":{"datum":1,"axis":null}}},
{"transform":[{"filter":"datum.k==='lab'"}],"mark":{"type":"rule","color":"black","strokeWidth":1.2,"strokeDash":[5,4]},"encoding":{"y":{"datum":0,"axis":null}}},
{"transform":[{"filter":"datum.k==='s'"}],"mark":{"type":"line","interpolate":"step-after","color":"#0000ff","strokeWidth":1.5},"encoding":{"x":{"field":"v","type":"quantitative","scale":{"domain":[-436,436],"nice":false,"zero":false},"axis":{"orient":"bottom","values":[-400,-200,0,200,400],"labels":false,"title":null}},"y":{"field":"f","type":"quantitative","scale":{"domain":[-1.65,1.32],"nice":false,"zero":false},"axis":{"orient":"left","values":[-1.5,-0.5,0.5],"format":".1f","title":null}}}},
{"transform":[{"filter":"datum.k==='m'"}],"mark":{"type":"line","interpolate":"monotone","color":"#ff0000","strokeWidth":3,"opacity":0.9},"encoding":{"x":{"field":"v","type":"quantitative","axis":{"orient":"bottom","values":[-300,-100,100,300],"labels":false,"title":null}},"y":{"field":"f","type":"quantitative","axis":{"orient":"left","values":[-1,0,1],"format":".1f","title":null}}}},
{"transform":[{"filter":"datum.k==='c'"}],"mark":{"type":"line","interpolate":"monotone","color":"#00bfbf","strokeWidth":1.5},"encoding":{"x":{"field":"v","type":"quantitative","axis":null},"y":{"field":"f","type":"quantitative","axis":null},"detail":{"field":"c"}}},
{"transform":[{"filter":"datum.k==='vl' && datum.s==='r'"}],"mark":{"type":"rule","color":"#ff0000","strokeWidth":1,"strokeDash":[2,2]},"encoding":{"x":{"field":"v","type":"quantitative","axis":null}}},
{"transform":[{"filter":"datum.k==='vl' && datum.s==='b'"}],"mark":{"type":"rule","color":"black","strokeWidth":1,"strokeDash":[2,2]},"encoding":{"x":{"field":"v","type":"quantitative","axis":null}}},
{"transform":[{"filter":"datum.k==='lab'"}],"mark":{"type":"rule","color":"black","strokeWidth":1.5,"strokeDash":[5,3]},"encoding":{"x":{"datum":0,"axis":null}}},
{"transform":[{"filter":"datum.k==='lab'"}],"mark":{"type":"text","align":"left","baseline":"middle","fontSize":17,"fontWeight":"bold","color":"#008000"},"encoding":{"x":{"datum":-400,"axis":null},"y":{"datum":-0.33,"axis":null},"text":{"field":"name"}}},
{"transform":[{"filter":"datum.k==='lab'"}],"mark":{"type":"text","align":"left","baseline":"middle","fontSize":17,"color":"black"},"encoding":{"x":{"datum":42,"axis":null},"y":{"datum":-0.33,"axis":null},"text":{"field":"ew"}}}
]},
{"width":315,"height":156,"transform":[{"filter":"datum.p===14"}],"resolve":{"axis":{"x":"independent","y":"independent"}},"layer":[
{"transform":[{"filter":"datum.k==='lab'"}],"mark":{"type":"rule","color":"#b4b4b4","strokeWidth":5},"encoding":{"y":{"datum":-0.5,"axis":null}}},
{"transform":[{"filter":"datum.k==='lab'"}],"mark":{"type":"rule","color":"#b4b4b4","strokeWidth":5},"encoding":{"y":{"datum":-1.5,"axis":null}}},
{"transform":[{"filter":"datum.k==='lab'"}],"mark":{"type":"rule","color":"#808080","strokeWidth":3},"encoding":{"y":{"datum":-0.5,"axis":null}}},
{"transform":[{"filter":"datum.k==='lab'"}],"mark":{"type":"rule","color":"#808080","strokeWidth":3},"encoding":{"y":{"datum":-1.5,"axis":null}}},
{"transform":[{"filter":"datum.k==='lab'"}],"mark":{"type":"rule","color":"black","strokeWidth":1.2,"strokeDash":[5,4]},"encoding":{"y":{"datum":1,"axis":null}}},
{"transform":[{"filter":"datum.k==='lab'"}],"mark":{"type":"rule","color":"black","strokeWidth":1.2,"strokeDash":[5,4]},"encoding":{"y":{"datum":0,"axis":null}}},
{"transform":[{"filter":"datum.k==='s'"}],"mark":{"type":"line","interpolate":"step-after","color":"#0000ff","strokeWidth":1.5},"encoding":{"x":{"field":"v","type":"quantitative","scale":{"domain":[-436,436],"nice":false,"zero":false},"axis":{"orient":"bottom","values":[-400,-200,0,200,400],"title":"Velocity (km/s)","labelPadding":9,"titlePadding":4}},"y":{"field":"f","type":"quantitative","scale":{"domain":[-1.65,1.32],"nice":false,"zero":false},"axis":{"orient":"left","values":[-1.5,-0.5,0.5],"format":".1f","title":null}}}},
{"transform":[{"filter":"datum.k==='m'"}],"mark":{"type":"line","interpolate":"monotone","color":"#ff0000","strokeWidth":3,"opacity":0.9},"encoding":{"x":{"field":"v","type":"quantitative","axis":{"orient":"bottom","values":[-300,-100,100,300],"title":null,"labelPadding":9}},"y":{"field":"f","type":"quantitative","axis":{"orient":"left","values":[-1,0,1],"format":".1f","title":null}}}},
{"transform":[{"filter":"datum.k==='c'"}],"mark":{"type":"line","interpolate":"monotone","color":"#00bfbf","strokeWidth":1.5},"encoding":{"x":{"field":"v","type":"quantitative","axis":null},"y":{"field":"f","type":"quantitative","axis":null},"detail":{"field":"c"}}},
{"transform":[{"filter":"datum.k==='vl' && datum.s==='r'"}],"mark":{"type":"rule","color":"#ff0000","strokeWidth":1,"strokeDash":[2,2]},"encoding":{"x":{"field":"v","type":"quantitative","axis":null}}},
{"transform":[{"filter":"datum.k==='vl' && datum.s==='b'"}],"mark":{"type":"rule","color":"black","strokeWidth":1,"strokeDash":[2,2]},"encoding":{"x":{"field":"v","type":"quantitative","axis":null}}},
{"transform":[{"filter":"datum.k==='lab'"}],"mark":{"type":"rule","color":"black","strokeWidth":1.5,"strokeDash":[5,3]},"encoding":{"x":{"datum":0,"axis":null}}},
{"transform":[{"filter":"datum.k==='lab'"}],"mark":{"type":"text","align":"left","baseline":"middle","fontSize":17,"fontWeight":"bold","color":"#008000"},"encoding":{"x":{"datum":-400,"axis":null},"y":{"datum":-0.33,"axis":null},"text":{"field":"name"}}},
{"transform":[{"filter":"datum.k==='lab'"}],"mark":{"type":"text","align":"left","baseline":"middle","fontSize":17,"color":"black"},"encoding":{"x":{"datum":42,"axis":null},"y":{"datum":-0.33,"axis":null},"text":{"field":"ew"}}}
]}
]}
]
}
